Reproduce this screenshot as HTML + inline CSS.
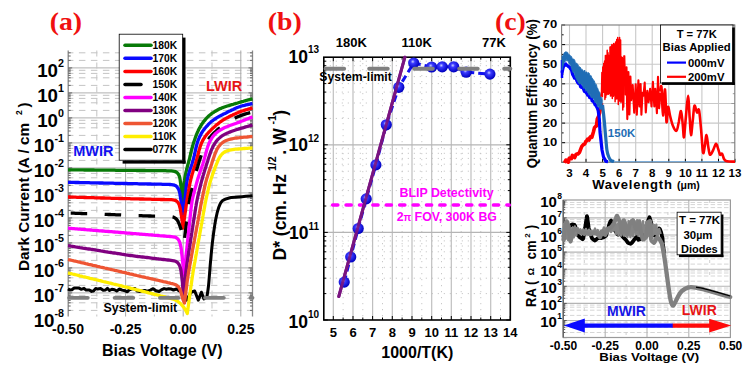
<!DOCTYPE html>
<html><head><meta charset="utf-8"><style>
html,body{margin:0;padding:0;background:#fff;width:750px;height:367px;overflow:hidden}
svg{display:block}
</style></head><body>
<svg width="750" height="367" viewBox="0 0 750 367">
<rect width="750" height="367" fill="#fff"/>
<line x1="68.2" y1="67.9" x2="252.5" y2="67.9" stroke="#b0b0b0" stroke-width="1"/>
<line x1="68.2" y1="92.9" x2="252.5" y2="92.9" stroke="#b0b0b0" stroke-width="1"/>
<line x1="68.2" y1="117.9" x2="252.5" y2="117.9" stroke="#b0b0b0" stroke-width="1"/>
<line x1="68.2" y1="142.9" x2="252.5" y2="142.9" stroke="#b0b0b0" stroke-width="1"/>
<line x1="68.2" y1="167.9" x2="252.5" y2="167.9" stroke="#b0b0b0" stroke-width="1"/>
<line x1="68.2" y1="192.9" x2="252.5" y2="192.9" stroke="#b0b0b0" stroke-width="1"/>
<line x1="68.2" y1="217.9" x2="252.5" y2="217.9" stroke="#b0b0b0" stroke-width="1"/>
<line x1="68.2" y1="242.9" x2="252.5" y2="242.9" stroke="#b0b0b0" stroke-width="1"/>
<line x1="68.2" y1="267.9" x2="252.5" y2="267.9" stroke="#b0b0b0" stroke-width="1"/>
<line x1="68.2" y1="292.9" x2="252.5" y2="292.9" stroke="#b0b0b0" stroke-width="1"/>
<line x1="68.2" y1="60.4" x2="252.5" y2="60.4" stroke="#c4c4c4" stroke-width="1" stroke-dasharray="6.5 5.5" stroke-dashoffset="1.3"/>
<line x1="68.2" y1="52.8" x2="252.5" y2="52.8" stroke="#c4c4c4" stroke-width="1" stroke-dasharray="6.5 5.5" stroke-dashoffset="1.3"/>
<line x1="68.2" y1="85.4" x2="252.5" y2="85.4" stroke="#c4c4c4" stroke-width="1" stroke-dasharray="6.5 5.5" stroke-dashoffset="1.3"/>
<line x1="68.2" y1="77.8" x2="252.5" y2="77.8" stroke="#c4c4c4" stroke-width="1" stroke-dasharray="6.5 5.5" stroke-dashoffset="1.3"/>
<line x1="68.2" y1="73.4" x2="252.5" y2="73.4" stroke="#c4c4c4" stroke-width="1" stroke-dasharray="6.5 5.5" stroke-dashoffset="1.3"/>
<line x1="68.2" y1="70.3" x2="252.5" y2="70.3" stroke="#c4c4c4" stroke-width="1" stroke-dasharray="6.5 5.5" stroke-dashoffset="1.3"/>
<line x1="68.2" y1="110.4" x2="252.5" y2="110.4" stroke="#c4c4c4" stroke-width="1" stroke-dasharray="6.5 5.5" stroke-dashoffset="1.3"/>
<line x1="68.2" y1="102.8" x2="252.5" y2="102.8" stroke="#c4c4c4" stroke-width="1" stroke-dasharray="6.5 5.5" stroke-dashoffset="1.3"/>
<line x1="68.2" y1="98.4" x2="252.5" y2="98.4" stroke="#c4c4c4" stroke-width="1" stroke-dasharray="6.5 5.5" stroke-dashoffset="1.3"/>
<line x1="68.2" y1="95.3" x2="252.5" y2="95.3" stroke="#c4c4c4" stroke-width="1" stroke-dasharray="6.5 5.5" stroke-dashoffset="1.3"/>
<line x1="68.2" y1="135.4" x2="252.5" y2="135.4" stroke="#c4c4c4" stroke-width="1" stroke-dasharray="6.5 5.5" stroke-dashoffset="1.3"/>
<line x1="68.2" y1="127.8" x2="252.5" y2="127.8" stroke="#c4c4c4" stroke-width="1" stroke-dasharray="6.5 5.5" stroke-dashoffset="1.3"/>
<line x1="68.2" y1="123.4" x2="252.5" y2="123.4" stroke="#c4c4c4" stroke-width="1" stroke-dasharray="6.5 5.5" stroke-dashoffset="1.3"/>
<line x1="68.2" y1="120.3" x2="252.5" y2="120.3" stroke="#c4c4c4" stroke-width="1" stroke-dasharray="6.5 5.5" stroke-dashoffset="1.3"/>
<line x1="68.2" y1="160.4" x2="252.5" y2="160.4" stroke="#c4c4c4" stroke-width="1" stroke-dasharray="6.5 5.5" stroke-dashoffset="1.3"/>
<line x1="68.2" y1="152.8" x2="252.5" y2="152.8" stroke="#c4c4c4" stroke-width="1" stroke-dasharray="6.5 5.5" stroke-dashoffset="1.3"/>
<line x1="68.2" y1="148.4" x2="252.5" y2="148.4" stroke="#c4c4c4" stroke-width="1" stroke-dasharray="6.5 5.5" stroke-dashoffset="1.3"/>
<line x1="68.2" y1="145.3" x2="252.5" y2="145.3" stroke="#c4c4c4" stroke-width="1" stroke-dasharray="6.5 5.5" stroke-dashoffset="1.3"/>
<line x1="68.2" y1="185.4" x2="252.5" y2="185.4" stroke="#c4c4c4" stroke-width="1" stroke-dasharray="6.5 5.5" stroke-dashoffset="1.3"/>
<line x1="68.2" y1="177.8" x2="252.5" y2="177.8" stroke="#c4c4c4" stroke-width="1" stroke-dasharray="6.5 5.5" stroke-dashoffset="1.3"/>
<line x1="68.2" y1="173.4" x2="252.5" y2="173.4" stroke="#c4c4c4" stroke-width="1" stroke-dasharray="6.5 5.5" stroke-dashoffset="1.3"/>
<line x1="68.2" y1="170.3" x2="252.5" y2="170.3" stroke="#c4c4c4" stroke-width="1" stroke-dasharray="6.5 5.5" stroke-dashoffset="1.3"/>
<line x1="68.2" y1="210.4" x2="252.5" y2="210.4" stroke="#c4c4c4" stroke-width="1" stroke-dasharray="6.5 5.5" stroke-dashoffset="1.3"/>
<line x1="68.2" y1="202.8" x2="252.5" y2="202.8" stroke="#c4c4c4" stroke-width="1" stroke-dasharray="6.5 5.5" stroke-dashoffset="1.3"/>
<line x1="68.2" y1="198.4" x2="252.5" y2="198.4" stroke="#c4c4c4" stroke-width="1" stroke-dasharray="6.5 5.5" stroke-dashoffset="1.3"/>
<line x1="68.2" y1="195.3" x2="252.5" y2="195.3" stroke="#c4c4c4" stroke-width="1" stroke-dasharray="6.5 5.5" stroke-dashoffset="1.3"/>
<line x1="68.2" y1="235.4" x2="252.5" y2="235.4" stroke="#c4c4c4" stroke-width="1" stroke-dasharray="6.5 5.5" stroke-dashoffset="1.3"/>
<line x1="68.2" y1="227.8" x2="252.5" y2="227.8" stroke="#c4c4c4" stroke-width="1" stroke-dasharray="6.5 5.5" stroke-dashoffset="1.3"/>
<line x1="68.2" y1="223.4" x2="252.5" y2="223.4" stroke="#c4c4c4" stroke-width="1" stroke-dasharray="6.5 5.5" stroke-dashoffset="1.3"/>
<line x1="68.2" y1="220.3" x2="252.5" y2="220.3" stroke="#c4c4c4" stroke-width="1" stroke-dasharray="6.5 5.5" stroke-dashoffset="1.3"/>
<line x1="68.2" y1="260.4" x2="252.5" y2="260.4" stroke="#c4c4c4" stroke-width="1" stroke-dasharray="6.5 5.5" stroke-dashoffset="1.3"/>
<line x1="68.2" y1="252.8" x2="252.5" y2="252.8" stroke="#c4c4c4" stroke-width="1" stroke-dasharray="6.5 5.5" stroke-dashoffset="1.3"/>
<line x1="68.2" y1="248.4" x2="252.5" y2="248.4" stroke="#c4c4c4" stroke-width="1" stroke-dasharray="6.5 5.5" stroke-dashoffset="1.3"/>
<line x1="68.2" y1="245.3" x2="252.5" y2="245.3" stroke="#c4c4c4" stroke-width="1" stroke-dasharray="6.5 5.5" stroke-dashoffset="1.3"/>
<line x1="68.2" y1="285.4" x2="252.5" y2="285.4" stroke="#c4c4c4" stroke-width="1" stroke-dasharray="6.5 5.5" stroke-dashoffset="1.3"/>
<line x1="68.2" y1="277.8" x2="252.5" y2="277.8" stroke="#c4c4c4" stroke-width="1" stroke-dasharray="6.5 5.5" stroke-dashoffset="1.3"/>
<line x1="68.2" y1="273.4" x2="252.5" y2="273.4" stroke="#c4c4c4" stroke-width="1" stroke-dasharray="6.5 5.5" stroke-dashoffset="1.3"/>
<line x1="68.2" y1="270.3" x2="252.5" y2="270.3" stroke="#c4c4c4" stroke-width="1" stroke-dasharray="6.5 5.5" stroke-dashoffset="1.3"/>
<line x1="68.2" y1="310.4" x2="252.5" y2="310.4" stroke="#c4c4c4" stroke-width="1" stroke-dasharray="6.5 5.5" stroke-dashoffset="1.3"/>
<line x1="68.2" y1="302.8" x2="252.5" y2="302.8" stroke="#c4c4c4" stroke-width="1" stroke-dasharray="6.5 5.5" stroke-dashoffset="1.3"/>
<line x1="68.2" y1="298.4" x2="252.5" y2="298.4" stroke="#c4c4c4" stroke-width="1" stroke-dasharray="6.5 5.5" stroke-dashoffset="1.3"/>
<line x1="68.2" y1="295.3" x2="252.5" y2="295.3" stroke="#c4c4c4" stroke-width="1" stroke-dasharray="6.5 5.5" stroke-dashoffset="1.3"/>
<line x1="125.6" y1="50.5" x2="125.6" y2="316.5" stroke="#a8a8a8" stroke-width="1"/>
<line x1="183.2" y1="50.5" x2="183.2" y2="316.5" stroke="#a8a8a8" stroke-width="1"/>
<line x1="240.8" y1="50.5" x2="240.8" y2="316.5" stroke="#a8a8a8" stroke-width="1"/>
<line x1="96.8" y1="50.5" x2="96.8" y2="316.5" stroke="#c4c4c4" stroke-width="1" stroke-dasharray="6 6"/>
<line x1="154.4" y1="50.5" x2="154.4" y2="316.5" stroke="#c4c4c4" stroke-width="1" stroke-dasharray="6 6"/>
<line x1="212" y1="50.5" x2="212" y2="316.5" stroke="#c4c4c4" stroke-width="1" stroke-dasharray="6 6"/>
<line x1="68.2" y1="50.5" x2="68.2" y2="316.5" stroke="#8a8a8a" stroke-width="1.3"/>
<line x1="252.5" y1="50.5" x2="252.5" y2="316.5" stroke="#8a8a8a" stroke-width="1.3"/>
<line x1="68.2" y1="60.4" x2="70.7" y2="60.4" stroke="#666" stroke-width="1"/>
<line x1="252.5" y1="60.4" x2="250" y2="60.4" stroke="#666" stroke-width="1"/>
<line x1="68.2" y1="56" x2="70.7" y2="56" stroke="#666" stroke-width="1"/>
<line x1="252.5" y1="56" x2="250" y2="56" stroke="#666" stroke-width="1"/>
<line x1="68.2" y1="52.8" x2="70.7" y2="52.8" stroke="#666" stroke-width="1"/>
<line x1="252.5" y1="52.8" x2="250" y2="52.8" stroke="#666" stroke-width="1"/>
<line x1="68.2" y1="67.9" x2="72.2" y2="67.9" stroke="#666" stroke-width="1"/>
<line x1="252.5" y1="67.9" x2="248.5" y2="67.9" stroke="#666" stroke-width="1"/>
<line x1="68.2" y1="85.4" x2="70.7" y2="85.4" stroke="#666" stroke-width="1"/>
<line x1="252.5" y1="85.4" x2="250" y2="85.4" stroke="#666" stroke-width="1"/>
<line x1="68.2" y1="81" x2="70.7" y2="81" stroke="#666" stroke-width="1"/>
<line x1="252.5" y1="81" x2="250" y2="81" stroke="#666" stroke-width="1"/>
<line x1="68.2" y1="77.8" x2="70.7" y2="77.8" stroke="#666" stroke-width="1"/>
<line x1="252.5" y1="77.8" x2="250" y2="77.8" stroke="#666" stroke-width="1"/>
<line x1="68.2" y1="75.4" x2="70.7" y2="75.4" stroke="#666" stroke-width="1"/>
<line x1="252.5" y1="75.4" x2="250" y2="75.4" stroke="#666" stroke-width="1"/>
<line x1="68.2" y1="73.4" x2="70.7" y2="73.4" stroke="#666" stroke-width="1"/>
<line x1="252.5" y1="73.4" x2="250" y2="73.4" stroke="#666" stroke-width="1"/>
<line x1="68.2" y1="71.8" x2="70.7" y2="71.8" stroke="#666" stroke-width="1"/>
<line x1="252.5" y1="71.8" x2="250" y2="71.8" stroke="#666" stroke-width="1"/>
<line x1="68.2" y1="70.3" x2="70.7" y2="70.3" stroke="#666" stroke-width="1"/>
<line x1="252.5" y1="70.3" x2="250" y2="70.3" stroke="#666" stroke-width="1"/>
<line x1="68.2" y1="69" x2="70.7" y2="69" stroke="#666" stroke-width="1"/>
<line x1="252.5" y1="69" x2="250" y2="69" stroke="#666" stroke-width="1"/>
<line x1="68.2" y1="92.9" x2="72.2" y2="92.9" stroke="#666" stroke-width="1"/>
<line x1="252.5" y1="92.9" x2="248.5" y2="92.9" stroke="#666" stroke-width="1"/>
<line x1="68.2" y1="110.4" x2="70.7" y2="110.4" stroke="#666" stroke-width="1"/>
<line x1="252.5" y1="110.4" x2="250" y2="110.4" stroke="#666" stroke-width="1"/>
<line x1="68.2" y1="106" x2="70.7" y2="106" stroke="#666" stroke-width="1"/>
<line x1="252.5" y1="106" x2="250" y2="106" stroke="#666" stroke-width="1"/>
<line x1="68.2" y1="102.8" x2="70.7" y2="102.8" stroke="#666" stroke-width="1"/>
<line x1="252.5" y1="102.8" x2="250" y2="102.8" stroke="#666" stroke-width="1"/>
<line x1="68.2" y1="100.4" x2="70.7" y2="100.4" stroke="#666" stroke-width="1"/>
<line x1="252.5" y1="100.4" x2="250" y2="100.4" stroke="#666" stroke-width="1"/>
<line x1="68.2" y1="98.4" x2="70.7" y2="98.4" stroke="#666" stroke-width="1"/>
<line x1="252.5" y1="98.4" x2="250" y2="98.4" stroke="#666" stroke-width="1"/>
<line x1="68.2" y1="96.8" x2="70.7" y2="96.8" stroke="#666" stroke-width="1"/>
<line x1="252.5" y1="96.8" x2="250" y2="96.8" stroke="#666" stroke-width="1"/>
<line x1="68.2" y1="95.3" x2="70.7" y2="95.3" stroke="#666" stroke-width="1"/>
<line x1="252.5" y1="95.3" x2="250" y2="95.3" stroke="#666" stroke-width="1"/>
<line x1="68.2" y1="94" x2="70.7" y2="94" stroke="#666" stroke-width="1"/>
<line x1="252.5" y1="94" x2="250" y2="94" stroke="#666" stroke-width="1"/>
<line x1="68.2" y1="117.9" x2="72.2" y2="117.9" stroke="#666" stroke-width="1"/>
<line x1="252.5" y1="117.9" x2="248.5" y2="117.9" stroke="#666" stroke-width="1"/>
<line x1="68.2" y1="135.4" x2="70.7" y2="135.4" stroke="#666" stroke-width="1"/>
<line x1="252.5" y1="135.4" x2="250" y2="135.4" stroke="#666" stroke-width="1"/>
<line x1="68.2" y1="131" x2="70.7" y2="131" stroke="#666" stroke-width="1"/>
<line x1="252.5" y1="131" x2="250" y2="131" stroke="#666" stroke-width="1"/>
<line x1="68.2" y1="127.8" x2="70.7" y2="127.8" stroke="#666" stroke-width="1"/>
<line x1="252.5" y1="127.8" x2="250" y2="127.8" stroke="#666" stroke-width="1"/>
<line x1="68.2" y1="125.4" x2="70.7" y2="125.4" stroke="#666" stroke-width="1"/>
<line x1="252.5" y1="125.4" x2="250" y2="125.4" stroke="#666" stroke-width="1"/>
<line x1="68.2" y1="123.4" x2="70.7" y2="123.4" stroke="#666" stroke-width="1"/>
<line x1="252.5" y1="123.4" x2="250" y2="123.4" stroke="#666" stroke-width="1"/>
<line x1="68.2" y1="121.8" x2="70.7" y2="121.8" stroke="#666" stroke-width="1"/>
<line x1="252.5" y1="121.8" x2="250" y2="121.8" stroke="#666" stroke-width="1"/>
<line x1="68.2" y1="120.3" x2="70.7" y2="120.3" stroke="#666" stroke-width="1"/>
<line x1="252.5" y1="120.3" x2="250" y2="120.3" stroke="#666" stroke-width="1"/>
<line x1="68.2" y1="119" x2="70.7" y2="119" stroke="#666" stroke-width="1"/>
<line x1="252.5" y1="119" x2="250" y2="119" stroke="#666" stroke-width="1"/>
<line x1="68.2" y1="142.9" x2="72.2" y2="142.9" stroke="#666" stroke-width="1"/>
<line x1="252.5" y1="142.9" x2="248.5" y2="142.9" stroke="#666" stroke-width="1"/>
<line x1="68.2" y1="160.4" x2="70.7" y2="160.4" stroke="#666" stroke-width="1"/>
<line x1="252.5" y1="160.4" x2="250" y2="160.4" stroke="#666" stroke-width="1"/>
<line x1="68.2" y1="156" x2="70.7" y2="156" stroke="#666" stroke-width="1"/>
<line x1="252.5" y1="156" x2="250" y2="156" stroke="#666" stroke-width="1"/>
<line x1="68.2" y1="152.8" x2="70.7" y2="152.8" stroke="#666" stroke-width="1"/>
<line x1="252.5" y1="152.8" x2="250" y2="152.8" stroke="#666" stroke-width="1"/>
<line x1="68.2" y1="150.4" x2="70.7" y2="150.4" stroke="#666" stroke-width="1"/>
<line x1="252.5" y1="150.4" x2="250" y2="150.4" stroke="#666" stroke-width="1"/>
<line x1="68.2" y1="148.4" x2="70.7" y2="148.4" stroke="#666" stroke-width="1"/>
<line x1="252.5" y1="148.4" x2="250" y2="148.4" stroke="#666" stroke-width="1"/>
<line x1="68.2" y1="146.8" x2="70.7" y2="146.8" stroke="#666" stroke-width="1"/>
<line x1="252.5" y1="146.8" x2="250" y2="146.8" stroke="#666" stroke-width="1"/>
<line x1="68.2" y1="145.3" x2="70.7" y2="145.3" stroke="#666" stroke-width="1"/>
<line x1="252.5" y1="145.3" x2="250" y2="145.3" stroke="#666" stroke-width="1"/>
<line x1="68.2" y1="144" x2="70.7" y2="144" stroke="#666" stroke-width="1"/>
<line x1="252.5" y1="144" x2="250" y2="144" stroke="#666" stroke-width="1"/>
<line x1="68.2" y1="167.9" x2="72.2" y2="167.9" stroke="#666" stroke-width="1"/>
<line x1="252.5" y1="167.9" x2="248.5" y2="167.9" stroke="#666" stroke-width="1"/>
<line x1="68.2" y1="185.4" x2="70.7" y2="185.4" stroke="#666" stroke-width="1"/>
<line x1="252.5" y1="185.4" x2="250" y2="185.4" stroke="#666" stroke-width="1"/>
<line x1="68.2" y1="181" x2="70.7" y2="181" stroke="#666" stroke-width="1"/>
<line x1="252.5" y1="181" x2="250" y2="181" stroke="#666" stroke-width="1"/>
<line x1="68.2" y1="177.8" x2="70.7" y2="177.8" stroke="#666" stroke-width="1"/>
<line x1="252.5" y1="177.8" x2="250" y2="177.8" stroke="#666" stroke-width="1"/>
<line x1="68.2" y1="175.4" x2="70.7" y2="175.4" stroke="#666" stroke-width="1"/>
<line x1="252.5" y1="175.4" x2="250" y2="175.4" stroke="#666" stroke-width="1"/>
<line x1="68.2" y1="173.4" x2="70.7" y2="173.4" stroke="#666" stroke-width="1"/>
<line x1="252.5" y1="173.4" x2="250" y2="173.4" stroke="#666" stroke-width="1"/>
<line x1="68.2" y1="171.8" x2="70.7" y2="171.8" stroke="#666" stroke-width="1"/>
<line x1="252.5" y1="171.8" x2="250" y2="171.8" stroke="#666" stroke-width="1"/>
<line x1="68.2" y1="170.3" x2="70.7" y2="170.3" stroke="#666" stroke-width="1"/>
<line x1="252.5" y1="170.3" x2="250" y2="170.3" stroke="#666" stroke-width="1"/>
<line x1="68.2" y1="169" x2="70.7" y2="169" stroke="#666" stroke-width="1"/>
<line x1="252.5" y1="169" x2="250" y2="169" stroke="#666" stroke-width="1"/>
<line x1="68.2" y1="192.9" x2="72.2" y2="192.9" stroke="#666" stroke-width="1"/>
<line x1="252.5" y1="192.9" x2="248.5" y2="192.9" stroke="#666" stroke-width="1"/>
<line x1="68.2" y1="210.4" x2="70.7" y2="210.4" stroke="#666" stroke-width="1"/>
<line x1="252.5" y1="210.4" x2="250" y2="210.4" stroke="#666" stroke-width="1"/>
<line x1="68.2" y1="206" x2="70.7" y2="206" stroke="#666" stroke-width="1"/>
<line x1="252.5" y1="206" x2="250" y2="206" stroke="#666" stroke-width="1"/>
<line x1="68.2" y1="202.8" x2="70.7" y2="202.8" stroke="#666" stroke-width="1"/>
<line x1="252.5" y1="202.8" x2="250" y2="202.8" stroke="#666" stroke-width="1"/>
<line x1="68.2" y1="200.4" x2="70.7" y2="200.4" stroke="#666" stroke-width="1"/>
<line x1="252.5" y1="200.4" x2="250" y2="200.4" stroke="#666" stroke-width="1"/>
<line x1="68.2" y1="198.4" x2="70.7" y2="198.4" stroke="#666" stroke-width="1"/>
<line x1="252.5" y1="198.4" x2="250" y2="198.4" stroke="#666" stroke-width="1"/>
<line x1="68.2" y1="196.8" x2="70.7" y2="196.8" stroke="#666" stroke-width="1"/>
<line x1="252.5" y1="196.8" x2="250" y2="196.8" stroke="#666" stroke-width="1"/>
<line x1="68.2" y1="195.3" x2="70.7" y2="195.3" stroke="#666" stroke-width="1"/>
<line x1="252.5" y1="195.3" x2="250" y2="195.3" stroke="#666" stroke-width="1"/>
<line x1="68.2" y1="194" x2="70.7" y2="194" stroke="#666" stroke-width="1"/>
<line x1="252.5" y1="194" x2="250" y2="194" stroke="#666" stroke-width="1"/>
<line x1="68.2" y1="217.9" x2="72.2" y2="217.9" stroke="#666" stroke-width="1"/>
<line x1="252.5" y1="217.9" x2="248.5" y2="217.9" stroke="#666" stroke-width="1"/>
<line x1="68.2" y1="235.4" x2="70.7" y2="235.4" stroke="#666" stroke-width="1"/>
<line x1="252.5" y1="235.4" x2="250" y2="235.4" stroke="#666" stroke-width="1"/>
<line x1="68.2" y1="231" x2="70.7" y2="231" stroke="#666" stroke-width="1"/>
<line x1="252.5" y1="231" x2="250" y2="231" stroke="#666" stroke-width="1"/>
<line x1="68.2" y1="227.8" x2="70.7" y2="227.8" stroke="#666" stroke-width="1"/>
<line x1="252.5" y1="227.8" x2="250" y2="227.8" stroke="#666" stroke-width="1"/>
<line x1="68.2" y1="225.4" x2="70.7" y2="225.4" stroke="#666" stroke-width="1"/>
<line x1="252.5" y1="225.4" x2="250" y2="225.4" stroke="#666" stroke-width="1"/>
<line x1="68.2" y1="223.4" x2="70.7" y2="223.4" stroke="#666" stroke-width="1"/>
<line x1="252.5" y1="223.4" x2="250" y2="223.4" stroke="#666" stroke-width="1"/>
<line x1="68.2" y1="221.8" x2="70.7" y2="221.8" stroke="#666" stroke-width="1"/>
<line x1="252.5" y1="221.8" x2="250" y2="221.8" stroke="#666" stroke-width="1"/>
<line x1="68.2" y1="220.3" x2="70.7" y2="220.3" stroke="#666" stroke-width="1"/>
<line x1="252.5" y1="220.3" x2="250" y2="220.3" stroke="#666" stroke-width="1"/>
<line x1="68.2" y1="219" x2="70.7" y2="219" stroke="#666" stroke-width="1"/>
<line x1="252.5" y1="219" x2="250" y2="219" stroke="#666" stroke-width="1"/>
<line x1="68.2" y1="242.9" x2="72.2" y2="242.9" stroke="#666" stroke-width="1"/>
<line x1="252.5" y1="242.9" x2="248.5" y2="242.9" stroke="#666" stroke-width="1"/>
<line x1="68.2" y1="260.4" x2="70.7" y2="260.4" stroke="#666" stroke-width="1"/>
<line x1="252.5" y1="260.4" x2="250" y2="260.4" stroke="#666" stroke-width="1"/>
<line x1="68.2" y1="256" x2="70.7" y2="256" stroke="#666" stroke-width="1"/>
<line x1="252.5" y1="256" x2="250" y2="256" stroke="#666" stroke-width="1"/>
<line x1="68.2" y1="252.8" x2="70.7" y2="252.8" stroke="#666" stroke-width="1"/>
<line x1="252.5" y1="252.8" x2="250" y2="252.8" stroke="#666" stroke-width="1"/>
<line x1="68.2" y1="250.4" x2="70.7" y2="250.4" stroke="#666" stroke-width="1"/>
<line x1="252.5" y1="250.4" x2="250" y2="250.4" stroke="#666" stroke-width="1"/>
<line x1="68.2" y1="248.4" x2="70.7" y2="248.4" stroke="#666" stroke-width="1"/>
<line x1="252.5" y1="248.4" x2="250" y2="248.4" stroke="#666" stroke-width="1"/>
<line x1="68.2" y1="246.8" x2="70.7" y2="246.8" stroke="#666" stroke-width="1"/>
<line x1="252.5" y1="246.8" x2="250" y2="246.8" stroke="#666" stroke-width="1"/>
<line x1="68.2" y1="245.3" x2="70.7" y2="245.3" stroke="#666" stroke-width="1"/>
<line x1="252.5" y1="245.3" x2="250" y2="245.3" stroke="#666" stroke-width="1"/>
<line x1="68.2" y1="244" x2="70.7" y2="244" stroke="#666" stroke-width="1"/>
<line x1="252.5" y1="244" x2="250" y2="244" stroke="#666" stroke-width="1"/>
<line x1="68.2" y1="267.9" x2="72.2" y2="267.9" stroke="#666" stroke-width="1"/>
<line x1="252.5" y1="267.9" x2="248.5" y2="267.9" stroke="#666" stroke-width="1"/>
<line x1="68.2" y1="285.4" x2="70.7" y2="285.4" stroke="#666" stroke-width="1"/>
<line x1="252.5" y1="285.4" x2="250" y2="285.4" stroke="#666" stroke-width="1"/>
<line x1="68.2" y1="281" x2="70.7" y2="281" stroke="#666" stroke-width="1"/>
<line x1="252.5" y1="281" x2="250" y2="281" stroke="#666" stroke-width="1"/>
<line x1="68.2" y1="277.8" x2="70.7" y2="277.8" stroke="#666" stroke-width="1"/>
<line x1="252.5" y1="277.8" x2="250" y2="277.8" stroke="#666" stroke-width="1"/>
<line x1="68.2" y1="275.4" x2="70.7" y2="275.4" stroke="#666" stroke-width="1"/>
<line x1="252.5" y1="275.4" x2="250" y2="275.4" stroke="#666" stroke-width="1"/>
<line x1="68.2" y1="273.4" x2="70.7" y2="273.4" stroke="#666" stroke-width="1"/>
<line x1="252.5" y1="273.4" x2="250" y2="273.4" stroke="#666" stroke-width="1"/>
<line x1="68.2" y1="271.8" x2="70.7" y2="271.8" stroke="#666" stroke-width="1"/>
<line x1="252.5" y1="271.8" x2="250" y2="271.8" stroke="#666" stroke-width="1"/>
<line x1="68.2" y1="270.3" x2="70.7" y2="270.3" stroke="#666" stroke-width="1"/>
<line x1="252.5" y1="270.3" x2="250" y2="270.3" stroke="#666" stroke-width="1"/>
<line x1="68.2" y1="269" x2="70.7" y2="269" stroke="#666" stroke-width="1"/>
<line x1="252.5" y1="269" x2="250" y2="269" stroke="#666" stroke-width="1"/>
<line x1="68.2" y1="292.9" x2="72.2" y2="292.9" stroke="#666" stroke-width="1"/>
<line x1="252.5" y1="292.9" x2="248.5" y2="292.9" stroke="#666" stroke-width="1"/>
<line x1="68.2" y1="310.4" x2="70.7" y2="310.4" stroke="#666" stroke-width="1"/>
<line x1="252.5" y1="310.4" x2="250" y2="310.4" stroke="#666" stroke-width="1"/>
<line x1="68.2" y1="306" x2="70.7" y2="306" stroke="#666" stroke-width="1"/>
<line x1="252.5" y1="306" x2="250" y2="306" stroke="#666" stroke-width="1"/>
<line x1="68.2" y1="302.8" x2="70.7" y2="302.8" stroke="#666" stroke-width="1"/>
<line x1="252.5" y1="302.8" x2="250" y2="302.8" stroke="#666" stroke-width="1"/>
<line x1="68.2" y1="300.4" x2="70.7" y2="300.4" stroke="#666" stroke-width="1"/>
<line x1="252.5" y1="300.4" x2="250" y2="300.4" stroke="#666" stroke-width="1"/>
<line x1="68.2" y1="298.4" x2="70.7" y2="298.4" stroke="#666" stroke-width="1"/>
<line x1="252.5" y1="298.4" x2="250" y2="298.4" stroke="#666" stroke-width="1"/>
<line x1="68.2" y1="296.8" x2="70.7" y2="296.8" stroke="#666" stroke-width="1"/>
<line x1="252.5" y1="296.8" x2="250" y2="296.8" stroke="#666" stroke-width="1"/>
<line x1="68.2" y1="295.3" x2="70.7" y2="295.3" stroke="#666" stroke-width="1"/>
<line x1="252.5" y1="295.3" x2="250" y2="295.3" stroke="#666" stroke-width="1"/>
<line x1="68.2" y1="294" x2="70.7" y2="294" stroke="#666" stroke-width="1"/>
<line x1="252.5" y1="294" x2="250" y2="294" stroke="#666" stroke-width="1"/>
<path d="M68 288.9 L70 290.1 L71.9 289.7 L74.2 288 L76.7 287.9 L79.1 288.1 L81.1 289.3 L84 288.3 L86.1 290.1 L89.3 290 L91.6 291.4 L93.5 291 L95.7 288.5 L97.7 289.1 L100.6 288.6 L103.2 290.3 L105.5 290 L107.4 288.3 L109.5 290.5 L111.9 289.2 L114.5 289.7 L116.7 291 L119.5 289 L122.1 290.1 L125.2 290.8 L127.4 291.8 L129.3 289.8 L132.2 288.8 L134.7 288.4 L137.4 291.1 L140 291.5 L142.2 290.9 L144.9 290.5 L147.3 291.4 L150.4 290.1 L153.2 288.7 L156 290.8 L159.1 291.5 L161.3 289.9 L164.1 288.6 L166.5 289.2 L168.5 288.8 L171.4 289.1 L173.5 290 L176.5 289 L179 290.7 L180 290.5 L183.6 295.2 L186.7 300.1 L191 292.2 L194.7 291 L198.3 300.1 L201.4 292.2 L203.9 298.9 L206.9 297C207.2 295 208 290.8 208.6 285C209.2 279.2 209.8 269.5 210.5 262C211.2 254.5 211.8 247.1 212.7 240C213.6 232.9 214.7 224.9 215.7 219.5C216.7 214.1 217.6 210.6 218.7 207.5C219.8 204.4 220.6 202.3 222.5 200.7C224.4 199.1 226.8 198.4 230 197.7C233.2 197 238.2 197 242 196.7C245.8 196.4 250.8 196 252.5 195.8" fill="none" stroke="#000" stroke-width="3" stroke-linejoin="round"/>
<path d="M68 169.8 L69.5 169.8 L71 169.8 L72.5 169.8 L74 169.9 L75.5 169.9 L77 169.9 L78.5 169.9 L80 169.9 L81.5 169.9 L83 169.9 L84.5 170 L86 170 L87.5 170 L89 170 L90.5 170 L92 170 L93.5 170 L95 170.1 L96.5 170.1 L98 170.1 L99.5 170.1 L101 170.1 L102.5 170.1 L104 170.1 L105.5 170.2 L107 170.2 L108.5 170.2 L110 170.2 L111.5 170.2 L113 170.2 L114.5 170.2 L116 170.3 L117.5 170.3 L119 170.3 L120.5 170.3 L122 170.3 L123.5 170.3 L125 170.3 L126.5 170.4 L128 170.4 L129.5 170.4 L131 170.4 L132.5 170.4 L134 170.4 L135.5 170.4 L137 170.5 L138.5 170.5 L140 170.5 L141.5 170.5 L143 170.5 L144.5 170.5 L146 170.6 L147.5 170.6 L149 170.6 L150.5 170.6 L152 170.6 L153.5 170.6 L155 170.6 L156.5 170.7 L158 170.7 L159.5 170.7 L161 170.7 L162.5 170.7 L164 170.7 L165.5 170.7 L167 170.8 L168.5 170.8 L170 170.8 L171.5 170.9 L173 171.1 L174.5 171.4 L175.9 171.9 L177.1 172.7 L178.1 173.8 L178.9 175.1 L179.5 176.5 L179.8 178 L180.1 179.5 L180.3 181 L180.5 182.5 L180.7 184 L180.9 185.5 L181.1 187 L181.2 188.5 L181.4 190 L181.5 191.5 L181.6 193 L181.8 194.5 L181.9 196 L182 197.5 L182.1 199 L182.3 200.5 L182.4 202 L182.5 203 L182.6 201.5 L182.7 200 L182.8 198.5 L182.9 197 L183 195.5 L183.1 194 L183.2 192.5 L183.3 191 L183.4 189.5 L183.5 188 L183.7 186.5 L183.9 185 L184 183.5 L184.2 182 L184.5 180.5 L184.7 179 L184.9 177.5 L185.2 176 L185.5 174.6 L185.8 173.1 L186.1 171.6 L186.5 170.2 L186.9 168.7 L187.2 167.2 L187.6 165.8 L188 164.3 L188.4 162.9 L188.8 161.4 L189.2 159.9 L189.6 158.5 L189.9 157 L190.3 155.5 L190.6 154 L191 152.5 L191.3 151 L191.7 149.5 L192.1 148 L192.5 146.5 L192.9 145.1 L193.3 143.6 L193.8 142.1 L194.3 140.7 L194.8 139.3 L195.3 137.8 L195.8 136.4 L196.3 135 L196.9 133.6 L197.5 132.2 L198.1 130.9 L198.7 129.5 L199.4 128.2 L200.2 126.9 L200.9 125.6 L201.8 124.3 L202.6 123 L203.5 121.8 L204.5 120.6 L205.5 119.4 L206.5 118.2 L207.6 117.1 L208.7 116 L209.9 115 L211.1 114.1 L212.3 113.1 L213.6 112.3 L214.8 111.5 L216.2 110.7 L217.5 110 L218.8 109.3 L220.2 108.6 L221.6 108.1 L223 107.5 L224.4 107 L225.9 106.5 L227.3 106 L228.8 105.6 L230.2 105.1 L231.7 104.7 L233.2 104.3 L234.6 103.8 L236.1 103.4 L237.6 103 L239.1 102.5 L240.5 102.1 L242 101.7 L243.5 101.3 L245 100.8 L246.5 100.4 L248 100 L249.5 99.6 L251 99.2 L252.5 98.8 L252.5 98.8" fill="none" stroke="#087a08" stroke-width="3.3" stroke-linejoin="round" stroke-linecap="butt"/>
<path d="M68 182.3 L69.5 182.3 L71 182.4 L72.5 182.4 L74 182.4 L75.5 182.5 L77 182.5 L78.5 182.5 L80 182.6 L81.5 182.6 L83 182.6 L84.5 182.6 L86 182.7 L87.5 182.7 L89 182.7 L90.5 182.8 L92 182.8 L93.5 182.8 L95 182.9 L96.5 182.9 L98 182.9 L99.5 183 L101 183 L102.5 183 L104 183.1 L105.5 183.1 L107 183.1 L108.5 183.1 L110 183.2 L111.5 183.2 L113 183.2 L114.5 183.3 L116 183.3 L117.5 183.3 L119 183.4 L120.5 183.4 L122 183.4 L123.5 183.5 L125 183.5 L126.5 183.5 L128 183.6 L129.5 183.6 L131 183.6 L132.5 183.6 L134 183.7 L135.5 183.7 L137 183.7 L138.5 183.8 L140 183.8 L141.5 183.8 L143 183.9 L144.5 183.9 L146 183.9 L147.5 184 L149 184 L150.5 184 L152 184.1 L153.5 184.1 L155 184.1 L156.5 184.2 L158 184.2 L159.5 184.2 L161 184.2 L162.5 184.3 L164 184.3 L165.5 184.3 L167 184.4 L168.5 184.4 L170 184.5 L171.5 184.6 L173 184.8 L174.5 185.2 L175.8 185.8 L176.9 186.7 L177.8 187.9 L178.5 189.2 L179.1 190.6 L179.5 192 L179.9 193.5 L180.1 195 L180.3 196.5 L180.6 198 L180.8 199.5 L181 201 L181.2 202.5 L181.4 204 L181.5 205.5 L181.7 207 L181.9 208.5 L182 210 L182.2 211.5 L182.3 213 L182.5 214.5 L182.6 216 L182.8 217.5 L182.8 218 L183 216.5 L183.2 215 L183.4 213.5 L183.5 212 L183.7 210.5 L183.9 209 L184.1 207.5 L184.3 206 L184.4 204.5 L184.6 203 L184.8 201.5 L184.9 200 L185.1 198.5 L185.2 197 L185.4 195.5 L185.5 194 L185.7 192.5 L185.8 191 L186 189.5 L186.1 188 L186.3 186.5 L186.4 185 L186.6 183.5 L186.9 182 L187.1 180.5 L187.4 179 L187.8 177.5 L188.1 176 L188.5 174.5 L189 173 L189.4 171.6 L189.9 170.1 L190.4 168.6 L190.9 167.2 L191.4 165.7 L191.9 164.3 L192.3 162.8 L192.8 161.4 L193.2 159.9 L193.6 158.4 L194 157 L194.3 155.5 L194.7 154 L195 152.5 L195.3 151 L195.6 149.5 L196 148 L196.3 146.5 L196.7 145 L197.1 143.6 L197.5 142.1 L198 140.7 L198.6 139.2 L199.2 137.8 L199.8 136.4 L200.5 135.1 L201.2 133.7 L202 132.4 L202.8 131.2 L203.7 129.9 L204.6 128.7 L205.6 127.5 L206.6 126.4 L207.6 125.3 L208.6 124.2 L209.7 123.1 L210.8 122.1 L212 121.1 L213.2 120.2 L214.4 119.3 L215.7 118.5 L217 117.7 L218.3 116.9 L219.6 116.1 L220.9 115.4 L222.3 114.7 L223.6 114 L225 113.4 L226.4 112.7 L227.7 112 L229.1 111.3 L230.5 110.7 L231.8 110 L233.2 109.4 L234.6 108.7 L236 108.1 L237.3 107.5 L238.8 107 L240.2 106.5 L241.6 106 L243.1 105.6 L244.5 105.3 L246 104.9 L247.5 104.6 L249 104.3 L250.5 104 L252 103.7 L252.5 103.6" fill="none" stroke="#0a0aff" stroke-width="3.3" stroke-linejoin="round" stroke-linecap="butt"/>
<path d="M68 197 L69.5 197 L71 197.1 L72.5 197.1 L74 197.2 L75.5 197.2 L77 197.3 L78.5 197.3 L80 197.3 L81.5 197.4 L83 197.4 L84.5 197.5 L86 197.5 L87.5 197.6 L89 197.6 L90.5 197.6 L92 197.7 L93.5 197.7 L95 197.8 L96.5 197.8 L98 197.9 L99.5 197.9 L101 198 L102.5 198 L104 198 L105.5 198.1 L107 198.1 L108.5 198.2 L110 198.2 L111.5 198.3 L113 198.3 L114.5 198.3 L116 198.4 L117.5 198.4 L119 198.5 L120.5 198.5 L122 198.5 L123.5 198.6 L125 198.6 L126.5 198.7 L128 198.7 L129.5 198.7 L131 198.8 L132.5 198.8 L134 198.8 L135.5 198.9 L137 198.9 L138.5 198.9 L140 199 L141.5 199 L143 199 L144.5 199.1 L146 199.1 L147.5 199.2 L149 199.2 L150.5 199.2 L152 199.3 L153.5 199.3 L155 199.3 L156.5 199.4 L158 199.4 L159.5 199.4 L161 199.5 L162.5 199.5 L164 199.5 L165.5 199.6 L167 199.6 L168.5 199.6 L170 199.7 L171.5 199.7 L173 199.8 L174.5 200.1 L175.9 200.6 L177.1 201.5 L178.1 202.7 L178.8 204 L179.4 205.5 L179.8 207 L180.2 208.5 L180.5 210 L180.7 211.5 L181 213 L181.2 214.5 L181.5 216 L181.7 217.5 L181.9 219 L182.1 220.5 L182.3 222 L182.4 223.5 L182.6 225 L182.8 226.5 L183 228 L183 228 L183.2 226.5 L183.4 225 L183.6 223.5 L183.9 222 L184.1 220.5 L184.3 219 L184.5 217.5 L184.7 216 L184.9 214.5 L185.1 213 L185.4 211.5 L185.6 210 L185.8 208.5 L186 207 L186.2 205.5 L186.4 204 L186.7 202.5 L186.9 201 L187.1 199.5 L187.4 198 L187.6 196.5 L187.9 195 L188.1 193.5 L188.4 192 L188.6 190.5 L188.9 189 L189.1 187.5 L189.4 186 L189.7 184.5 L190 183 L190.3 181.5 L190.7 180 L191 178.5 L191.4 177 L191.8 175.5 L192.2 174 L192.7 172.5 L193.1 171.1 L193.6 169.6 L194.1 168.1 L194.5 166.7 L195 165.2 L195.5 163.8 L195.9 162.3 L196.3 160.9 L196.7 159.4 L197.1 157.9 L197.5 156.5 L197.9 155 L198.3 153.5 L198.7 152 L199 150.5 L199.5 149 L199.9 147.5 L200.4 146 L200.9 144.6 L201.5 143.2 L202.1 141.8 L202.8 140.4 L203.5 139.1 L204.4 137.8 L205.2 136.5 L206.2 135.3 L207.1 134.1 L208.1 133 L209.1 131.9 L210.2 130.8 L211.3 129.7 L212.4 128.6 L213.5 127.6 L214.6 126.6 L215.7 125.6 L216.9 124.6 L218.1 123.7 L219.2 122.7 L220.4 121.8 L221.7 121 L222.9 120.2 L224.2 119.4 L225.5 118.6 L226.8 117.9 L228.2 117.2 L229.5 116.5 L230.9 115.8 L232.3 115.2 L233.6 114.5 L235 113.9 L236.4 113.3 L237.8 112.7 L239.2 112.1 L240.7 111.6 L242.1 111 L243.6 110.6 L245 110.1 L246.5 109.7 L248 109.2 L249.5 108.8 L251 108.4 L252.5 108 L252.5 108" fill="none" stroke="#ff0000" stroke-width="3.3" stroke-linejoin="round" stroke-linecap="butt"/>
<path d="M68 213 L69.5 213.1 L71 213.1 L72.5 213.2 L74 213.2 L75.5 213.3 L77 213.3 L78.5 213.4 L80 213.4 L81.5 213.5 L83 213.6 L84.5 213.6 L86 213.7 L87.5 213.7 L89 213.8 L90.5 213.8 L92 213.9 L93.5 213.9 L95 214 L96.5 214 L98 214.1 L99.5 214.2 L101 214.2 L102.5 214.3 L104 214.3 L105.5 214.4 L107 214.4 L108.5 214.5 L110 214.5 L111.5 214.6 L113 214.7 L114.5 214.7 L116 214.8 L117.5 214.8 L119 214.9 L120.5 214.9 L122 215 L123.5 215 L125 215.1 L126.5 215.2 L128 215.2 L129.5 215.3 L131 215.3 L132.5 215.4 L134 215.4 L135.5 215.5 L137 215.5 L138.5 215.6 L140 215.6 L141.5 215.7 L143 215.8 L144.5 215.8 L146 215.9 L147.5 215.9 L149 216 L150.5 216 L152 216.1 L153.5 216.1 L155 216.2 L156.5 216.2 L158 216.2 L159.5 216.3 L161 216.3 L162.5 216.3 L164 216.3 L165.5 216.4 L167 216.4 L168.5 216.4 L170 216.5 L171.5 216.6 L172.9 216.9 L174.3 217.5 L175.5 218.3 L176.6 219.3 L177.5 220.5 L178.2 221.8 L178.8 223.2 L179.4 224.6 L179.9 226.1 L180.4 227.5 L180.9 229 L181.4 230.5 L181.9 232 L182.3 233.5 L182.6 235 L182.9 236.5 L183.2 238 L183.5 239.5 L183.7 241 L184 242.5 L184 242.5 L184.2 241 L184.4 239.5 L184.6 238 L184.8 236.5 L185 235 L185.2 233.5 L185.4 232 L185.6 230.5 L185.7 229 L185.9 227.5 L186.1 226 L186.3 224.5 L186.5 223 L186.7 221.5 L186.9 220 L187.1 218.5 L187.3 217 L187.5 215.5 L187.7 214 L187.9 212.5 L188.1 211 L188.3 209.5 L188.5 208 L188.7 206.5 L188.9 205 L189.1 203.5 L189.3 202 L189.6 200.5 L189.9 199.1 L190.1 197.6 L190.4 196.1 L190.7 194.6 L191 193.2 L191.4 191.7 L191.7 190.2 L192 188.8 L192.4 187.3 L192.7 185.8 L193 184.4 L193.4 182.9 L193.7 181.4 L194.1 180 L194.4 178.5 L194.8 177 L195.2 175.5 L195.6 174 L196 172.5 L196.4 171 L196.8 169.5 L197.2 168 L197.7 166.5 L198.1 165 L198.6 163.5 L199 162.1 L199.5 160.6 L200 159.1 L200.4 157.7 L200.9 156.2 L201.4 154.8 L201.9 153.3 L202.4 151.9 L203 150.5 L203.5 149.1 L204.1 147.6 L204.7 146.2 L205.3 144.8 L206 143.5 L206.7 142.1 L207.5 140.8 L208.3 139.6 L209.2 138.3 L210.1 137.1 L211.1 136 L212.1 134.8 L213.2 133.7 L214.2 132.7 L215.4 131.6 L216.5 130.6 L217.7 129.6 L218.9 128.6 L220.1 127.7 L221.4 126.7 L222.6 125.8 L223.9 124.9 L225.2 124.1 L226.5 123.2 L227.8 122.4 L229.1 121.6 L230.4 120.8 L231.7 120 L233.1 119.2 L234.4 118.5 L235.7 117.8 L237.1 117.1 L238.5 116.5 L239.9 115.9 L241.3 115.4 L242.7 114.9 L244.2 114.4 L245.6 113.9 L247.1 113.5 L248.6 113.1 L250 112.7 L251.5 112.3 L252.5 112" fill="none" stroke="#000000" stroke-width="3.3" stroke-linejoin="round" stroke-linecap="butt" stroke-dasharray="16.5 17.5" stroke-dashoffset="-2.7"/>
<path d="M68 228.2 L69.5 228.3 L71 228.4 L72.5 228.6 L74 228.7 L75.5 228.8 L77 228.9 L78.5 229.1 L80 229.2 L81.5 229.3 L83 229.4 L84.5 229.5 L86 229.7 L87.5 229.8 L89 229.9 L90.5 230 L92 230.2 L93.5 230.3 L95 230.4 L96.5 230.5 L98 230.6 L99.5 230.8 L101 230.9 L102.5 231 L104 231.1 L105.5 231.3 L107 231.4 L108.5 231.5 L110 231.6 L111.5 231.7 L113 231.9 L114.5 232 L116 232.1 L117.5 232.2 L119 232.4 L120.5 232.5 L122 232.6 L123.5 232.7 L125 232.8 L126.5 233 L128 233.1 L129.5 233.2 L131 233.3 L132.5 233.5 L134 233.6 L135.5 233.7 L137 233.8 L138.5 233.9 L140 234.1 L141.5 234.2 L143 234.3 L144.5 234.4 L146 234.6 L147.5 234.7 L149 234.8 L150.5 234.9 L152 235 L153.5 235.2 L155 235.3 L156.5 235.4 L158 235.5 L159.5 235.7 L161 235.8 L162.5 235.9 L164 236 L165.5 236.1 L167 236.3 L168.5 236.4 L170 236.5 L171.5 236.6 L173 236.8 L174.5 237 L175.9 237.5 L177.2 238.3 L178.2 239.3 L179 240.6 L179.6 242 L180.1 243.5 L180.4 245 L180.8 246.5 L181.1 248 L181.3 249.5 L181.5 251 L181.6 252.5 L181.8 254 L182 255.5 L182.2 257 L182.3 258.5 L182.5 260 L182.6 261.5 L182.8 263 L182.9 264.5 L183.1 266 L183.3 267.5 L183.4 269 L183.6 270.5 L183.7 272 L183.8 273.5 L184 275 L184 275 L184.2 273.5 L184.3 272 L184.5 270.5 L184.6 269 L184.8 267.5 L185 266 L185.1 264.5 L185.3 263 L185.4 261.5 L185.6 260 L185.8 258.5 L185.9 257 L186.1 255.5 L186.2 254 L186.4 252.5 L186.6 251 L186.7 249.5 L186.9 248 L187 246.5 L187.2 245 L187.4 243.5 L187.5 242 L187.7 240.5 L187.8 239 L188 237.5 L188.2 236 L188.3 234.5 L188.5 233 L188.6 231.5 L188.8 230 L189 228.5 L189.1 227 L189.3 225.5 L189.4 224 L189.6 222.5 L189.8 221 L189.9 219.5 L190.1 218 L190.2 216.5 L190.4 215 L190.6 213.5 L190.7 212 L190.9 210.5 L191 209 L191.2 207.5 L191.4 206 L191.6 204.5 L191.8 203 L192 201.5 L192.3 200 L192.6 198.6 L192.9 197.1 L193.3 195.6 L193.6 194.2 L194 192.7 L194.4 191.2 L194.8 189.8 L195.2 188.3 L195.6 186.8 L196 185.4 L196.4 183.9 L196.8 182.5 L197.2 181 L197.6 179.6 L198.1 178.1 L198.5 176.7 L199 175.2 L199.5 173.8 L199.9 172.4 L200.4 171 L200.9 169.5 L201.4 168.1 L201.9 166.7 L202.4 165.2 L202.9 163.8 L203.3 162.3 L203.8 160.9 L204.2 159.4 L204.6 157.9 L205 156.5 L205.4 155 L205.8 153.5 L206.2 152 L206.6 150.5 L207 149 L207.5 147.5 L207.9 146.1 L208.5 144.6 L209.1 143.2 L209.7 141.8 L210.4 140.4 L211.2 139.1 L212 137.8 L212.9 136.6 L213.8 135.4 L214.8 134.3 L215.9 133.3 L217.1 132.3 L218.2 131.4 L219.5 130.5 L220.8 129.7 L222.1 129 L223.4 128.3 L224.8 127.6 L226.2 127 L227.6 126.4 L229.1 125.8 L230.5 125.3 L232 124.7 L233.4 124.2 L234.9 123.7 L236.4 123.2 L237.8 122.6 L239.2 122.1 L240.7 121.5 L242.1 121 L243.5 120.4 L244.9 119.9 L246.4 119.3 L247.8 118.8 L249.2 118.2 L250.6 117.6 L252 117.1 L252.5 116.9" fill="none" stroke="#ff00ff" stroke-width="3.3" stroke-linejoin="round" stroke-linecap="butt"/>
<path d="M68 245.7 L69.5 245.9 L71 246.2 L72.5 246.4 L74 246.6 L75.4 246.9 L76.9 247.1 L78.4 247.3 L79.9 247.6 L81.4 247.8 L82.9 248.1 L84.4 248.3 L85.9 248.5 L87.3 248.8 L88.8 249 L90.3 249.2 L91.8 249.5 L93.3 249.7 L94.8 249.9 L96.3 250.2 L97.8 250.4 L99.2 250.6 L100.7 250.9 L102.2 251.1 L103.7 251.3 L105.2 251.6 L106.7 251.8 L108.2 252.1 L109.7 252.3 L111.2 252.5 L112.6 252.8 L114.1 253 L115.6 253.2 L117.1 253.5 L118.6 253.7 L120.1 253.9 L121.6 254.2 L123.1 254.4 L124.5 254.6 L126 254.9 L127.5 255.1 L129 255.3 L130.5 255.5 L132 255.7 L133.5 255.9 L135 256.1 L136.5 256.3 L138 256.5 L139.5 256.6 L141 256.8 L142.5 257 L144 257.2 L145.5 257.4 L147 257.5 L148.5 257.7 L150 257.9 L151.5 258.1 L153 258.3 L154.5 258.4 L156 258.6 L157.5 258.8 L159 259 L160.5 259.1 L162 259.3 L163.5 259.5 L165 259.7 L166.5 259.9 L168 260 L169.5 260.2 L171 260.4 L172.5 260.6 L174 260.8 L175.4 261.3 L176.8 262 L177.9 262.9 L178.9 264.2 L179.5 265.5 L180.1 267 L180.5 268.5 L180.9 270 L181.1 271.5 L181.3 273 L181.5 274.5 L181.7 276 L181.9 277.5 L182 279 L182.2 280.5 L182.4 282 L182.5 283.5 L182.6 285 L182.7 286.5 L182.8 288 L182.9 289.5 L183 291 L183.1 292.5 L183.2 294 L183.3 295.5 L183.4 297 L183.5 298 L183.6 296.5 L183.8 295 L183.9 293.5 L184 292 L184.2 290.5 L184.3 289 L184.4 287.5 L184.6 286 L184.7 284.5 L184.8 283 L185 281.5 L185.1 280 L185.2 278.5 L185.4 277 L185.5 275.5 L185.7 274 L185.8 272.5 L186 271 L186.2 269.5 L186.4 268 L186.6 266.5 L186.8 265 L187 263.5 L187.2 262.1 L187.5 260.6 L187.7 259.1 L187.9 257.6 L188.2 256.1 L188.4 254.6 L188.6 253.1 L188.9 251.6 L189.1 250.1 L189.3 248.7 L189.6 247.2 L189.8 245.7 L190 244.2 L190.3 242.7 L190.5 241.2 L190.7 239.7 L190.9 238.2 L191.2 236.7 L191.4 235.2 L191.6 233.8 L191.9 232.3 L192.1 230.8 L192.3 229.3 L192.6 227.8 L192.8 226.3 L193 224.8 L193.3 223.3 L193.5 221.8 L193.7 220.4 L194 218.9 L194.2 217.4 L194.4 215.9 L194.7 214.4 L194.9 212.9 L195.1 211.4 L195.4 209.9 L195.6 208.4 L195.8 207 L196.1 205.5 L196.3 204 L196.6 202.5 L196.9 201 L197.2 199.5 L197.5 198.1 L197.8 196.6 L198.1 195.1 L198.5 193.7 L198.8 192.2 L199.2 190.7 L199.5 189.3 L199.9 187.8 L200.3 186.3 L200.6 184.9 L201 183.4 L201.4 181.9 L201.8 180.4 L202.2 179 L202.6 177.5 L203 176 L203.5 174.5 L203.9 173 L204.4 171.5 L204.8 170 L205.3 168.5 L205.8 167 L206.2 165.5 L206.7 164 L207.2 162.5 L207.7 161 L208.1 159.5 L208.6 158 L209.1 156.5 L209.6 155 L210.1 153.6 L210.6 152.1 L211.1 150.7 L211.7 149.3 L212.4 147.9 L213 146.5 L213.8 145.2 L214.5 143.9 L215.4 142.6 L216.2 141.4 L217.2 140.2 L218.2 139.1 L219.3 138.1 L220.4 137.1 L221.6 136.2 L222.9 135.4 L224.2 134.6 L225.5 133.9 L226.9 133.3 L228.3 132.7 L229.7 132.1 L231.2 131.5 L232.6 131 L234.1 130.5 L235.5 130 L237 129.5 L238.4 129.1 L239.9 128.6 L241.3 128.2 L242.8 127.8 L244.2 127.4 L245.7 126.9 L247.2 126.5 L248.6 126.1 L250.1 125.7 L251.5 125.3 L252.5 125" fill="none" stroke="#800080" stroke-width="3.3" stroke-linejoin="round" stroke-linecap="butt"/>
<path d="M68 259.5 L69.5 259.8 L70.9 260.2 L72.4 260.5 L73.9 260.9 L75.3 261.2 L76.8 261.5 L78.3 261.9 L79.7 262.2 L81.2 262.6 L82.7 262.9 L84.1 263.2 L85.6 263.6 L87.1 263.9 L88.5 264.3 L90 264.6 L91.5 264.9 L92.9 265.3 L94.4 265.6 L95.9 265.9 L97.3 266.3 L98.8 266.6 L100.3 267 L101.7 267.3 L103.2 267.6 L104.7 268 L106.1 268.3 L107.6 268.7 L109 269 L110.5 269.3 L112 269.7 L113.4 270 L114.9 270.4 L116.4 270.7 L117.8 271 L119.3 271.4 L120.8 271.7 L122.2 272.1 L123.7 272.4 L125.2 272.7 L126.6 273.1 L128.1 273.4 L129.6 273.8 L131 274.1 L132.5 274.4 L134 274.8 L135.4 275.1 L136.9 275.5 L138.4 275.8 L139.8 276.1 L141.3 276.5 L142.8 276.8 L144.2 277.1 L145.7 277.5 L147.2 277.8 L148.6 278.2 L150.1 278.5 L151.6 278.8 L153 279.2 L154.5 279.5 L156 279.9 L157.4 280.2 L158.9 280.5 L160.4 280.9 L161.8 281.2 L163.3 281.6 L164.8 281.9 L166.2 282.2 L167.7 282.6 L169.2 282.9 L170.6 283.3 L172.1 283.6 L173.5 284 L175 284.5 L176.3 285.1 L177.6 286.1 L178.6 287.2 L179.5 288.6 L180.2 290 L180.7 291.5 L181.2 293 L181.6 294.5 L182 296 L182.4 297.5 L182.8 299 L183.4 300.5 L184 302 L184.5 303 L184.7 301.5 L184.9 300 L185.1 298.5 L185.3 297 L185.4 295.5 L185.6 294 L185.8 292.5 L186 291 L186.2 289.5 L186.4 288 L186.6 286.5 L186.8 285 L186.9 283.5 L187.1 282 L187.3 280.5 L187.5 279 L187.7 277.5 L188 276 L188.2 274.5 L188.4 273 L188.7 271.6 L188.9 270.1 L189.2 268.6 L189.5 267.1 L189.7 265.6 L190 264.1 L190.3 262.7 L190.5 261.2 L190.8 259.7 L191.1 258.2 L191.4 256.7 L191.6 255.3 L191.9 253.8 L192.2 252.3 L192.4 250.8 L192.7 249.3 L193 247.9 L193.3 246.4 L193.5 244.9 L193.8 243.4 L194.1 241.9 L194.4 240.5 L194.6 239 L194.9 237.5 L195.2 236 L195.4 234.5 L195.7 233.1 L196 231.6 L196.3 230.1 L196.5 228.6 L196.8 227.1 L197.1 225.7 L197.4 224.2 L197.6 222.7 L197.9 221.2 L198.2 219.7 L198.4 218.3 L198.7 216.8 L199 215.3 L199.3 213.8 L199.5 212.3 L199.8 210.9 L200.1 209.4 L200.4 207.9 L200.6 206.4 L200.9 204.9 L201.2 203.4 L201.5 202 L201.8 200.5 L202.1 199 L202.4 197.5 L202.7 196 L203 194.5 L203.3 193 L203.7 191.5 L204 190 L204.3 188.5 L204.7 187 L205 185.5 L205.4 184 L205.7 182.5 L206.1 181.1 L206.5 179.6 L206.9 178.1 L207.4 176.7 L207.8 175.3 L208.3 173.8 L208.7 172.4 L209.2 171 L209.7 169.5 L210.2 168.1 L210.7 166.7 L211.2 165.2 L211.7 163.8 L212.1 162.3 L212.6 160.9 L213.1 159.4 L213.6 158 L214.1 156.5 L214.6 155 L215.1 153.6 L215.7 152.2 L216.3 150.8 L216.9 149.4 L217.7 148.1 L218.5 146.8 L219.4 145.7 L220.3 144.6 L221.4 143.6 L222.5 142.6 L223.7 141.8 L225 141.1 L226.3 140.5 L227.7 140 L229.1 139.5 L230.6 139.1 L232 138.8 L233.5 138.5 L235 138.2 L236.5 138 L238 137.8 L239.5 137.7 L241 137.5 L242.5 137.4 L244 137.2 L245.5 137.1 L247 137 L248.5 136.8 L250 136.7 L251.5 136.6 L252.5 136.5" fill="none" stroke="#ee5533" stroke-width="3.3" stroke-linejoin="round" stroke-linecap="butt"/>
<path d="M68 272.9 L69.5 273.3 L70.9 273.6 L72.4 274 L73.9 274.3 L75.3 274.7 L76.8 275 L78.3 275.4 L79.7 275.8 L81.2 276.1 L82.6 276.5 L84.1 276.8 L85.6 277.2 L87 277.5 L88.5 277.9 L90 278.3 L91.4 278.6 L92.9 279 L94.4 279.3 L95.8 279.7 L97.3 280 L98.8 280.4 L100.2 280.7 L101.7 281.1 L103.1 281.5 L104.6 281.8 L106.1 282.2 L107.5 282.5 L109 282.9 L110.5 283.2 L111.9 283.6 L113.4 284 L114.9 284.3 L116.3 284.7 L117.8 285 L119.3 285.4 L120.7 285.7 L122.2 286.1 L123.7 286.5 L125.1 286.8 L126.6 287.2 L128 287.5 L129.5 287.9 L131 288.3 L132.4 288.6 L133.9 289 L135.4 289.4 L136.8 289.8 L138.3 290.1 L139.8 290.5 L141.3 290.9 L142.7 291.3 L144.2 291.6 L145.7 292 L147.1 292.4 L148.6 292.8 L150.1 293.1 L151.5 293.5 L153 293.9 L154.5 294.3 L155.9 294.6 L157.4 295 L158.9 295.4 L160.3 295.8 L161.8 296.1 L163.3 296.5 L164.7 296.9 L166.2 297.3 L167.7 297.6 L169.1 298 L170.6 298.4 L172.1 298.8 L173.5 299.2 L174.9 299.7 L176.3 300.4 L177.6 301.2 L178.9 302.2 L180.1 303.2 L181.2 304.3 L182.2 305.4 L183.2 306.6 L184.1 307.8 L184.9 309.1 L185.7 310.4 L186.4 311.7 L187.1 313.1 L187.3 313.5 L187.5 312 L187.7 310.5 L187.9 309 L188.1 307.5 L188.3 306 L188.5 304.5 L188.7 303 L188.9 301.5 L189.1 300 L189.3 298.5 L189.5 297 L189.7 295.5 L189.9 294 L190.1 292.5 L190.3 291 L190.5 289.5 L190.7 288 L190.9 286.5 L191.2 285 L191.4 283.5 L191.6 282 L191.8 280.5 L192 279 L192.2 277.5 L192.4 276 L192.7 274.5 L192.9 273 L193.1 271.6 L193.4 270.1 L193.6 268.6 L193.9 267.1 L194.2 265.6 L194.4 264.1 L194.7 262.7 L195 261.2 L195.2 259.7 L195.5 258.2 L195.7 256.7 L196 255.3 L196.3 253.8 L196.5 252.3 L196.8 250.8 L197 249.3 L197.3 247.9 L197.6 246.4 L197.8 244.9 L198.1 243.4 L198.4 241.9 L198.6 240.5 L198.9 239 L199.2 237.5 L199.4 236 L199.7 234.5 L199.9 233.1 L200.2 231.6 L200.5 230.1 L200.7 228.6 L201 227.1 L201.2 225.7 L201.5 224.2 L201.8 222.7 L202 221.2 L202.3 219.7 L202.6 218.3 L202.8 216.8 L203.1 215.3 L203.3 213.8 L203.6 212.3 L203.9 210.9 L204.1 209.4 L204.4 207.9 L204.7 206.4 L204.9 204.9 L205.2 203.5 L205.5 202 L205.8 200.5 L206.1 199 L206.4 197.6 L206.7 196.1 L207.1 194.6 L207.4 193.2 L207.8 191.7 L208.1 190.2 L208.4 188.8 L208.8 187.3 L209.2 185.9 L209.5 184.4 L209.9 182.9 L210.3 181.5 L210.8 180 L211.2 178.6 L211.7 177.2 L212.2 175.7 L212.7 174.3 L213.2 172.9 L213.7 171.4 L214.3 170 L214.8 168.6 L215.3 167.1 L215.9 165.7 L216.4 164.3 L217 162.9 L217.5 161.5 L218.1 160.1 L218.8 158.7 L219.5 157.4 L220.3 156.2 L221.2 155 L222.1 154 L223.2 153 L224.3 152.2 L225.5 151.5 L226.8 150.9 L228.2 150.5 L229.6 150.1 L231 149.8 L232.5 149.6 L234 149.4 L235.5 149.2 L237 149.1 L238.5 149 L240 148.9 L241.5 148.8 L243 148.6 L244.5 148.5 L246 148.4 L247.5 148.3 L249 148.2 L250.5 148.1 L252 148 L252.5 148" fill="none" stroke="#ffee00" stroke-width="3.3" stroke-linejoin="round" stroke-linecap="butt"/>
<line x1="69.1" y1="297.8" x2="87.8" y2="297.8" stroke="#808080" stroke-width="3.8" stroke-linecap="round"/>
<line x1="114.6" y1="297.8" x2="133.3" y2="297.8" stroke="#808080" stroke-width="3.8" stroke-linecap="round"/>
<line x1="159.9" y1="297.8" x2="178.6" y2="297.8" stroke="#808080" stroke-width="3.8" stroke-linecap="round"/>
<line x1="205.1" y1="297.8" x2="223.8" y2="297.8" stroke="#808080" stroke-width="3.8" stroke-linecap="round"/>
<line x1="250.4" y1="297.8" x2="252.5" y2="297.8" stroke="#808080" stroke-width="3.8" stroke-linecap="round"/>
<text transform="translate(64 76.7) scale(1.07 1)" font-size="17.5" text-anchor="end" font-family="Liberation Sans" font-weight="bold">10<tspan font-size="10" dy="-10">2</tspan></text>
<text transform="translate(64 101.7) scale(1.07 1)" font-size="17.5" text-anchor="end" font-family="Liberation Sans" font-weight="bold">10<tspan font-size="10" dy="-10">1</tspan></text>
<text transform="translate(64 126.7) scale(1.07 1)" font-size="17.5" text-anchor="end" font-family="Liberation Sans" font-weight="bold">10<tspan font-size="10" dy="-10">0</tspan></text>
<text transform="translate(64 151.7) scale(1.07 1)" font-size="17.5" text-anchor="end" font-family="Liberation Sans" font-weight="bold">10<tspan font-size="10" dy="-10">-1</tspan></text>
<text transform="translate(64 176.7) scale(1.07 1)" font-size="17.5" text-anchor="end" font-family="Liberation Sans" font-weight="bold">10<tspan font-size="10" dy="-10">-2</tspan></text>
<text transform="translate(64 201.7) scale(1.07 1)" font-size="17.5" text-anchor="end" font-family="Liberation Sans" font-weight="bold">10<tspan font-size="10" dy="-10">-3</tspan></text>
<text transform="translate(64 226.7) scale(1.07 1)" font-size="17.5" text-anchor="end" font-family="Liberation Sans" font-weight="bold">10<tspan font-size="10" dy="-10">-4</tspan></text>
<text transform="translate(64 251.7) scale(1.07 1)" font-size="17.5" text-anchor="end" font-family="Liberation Sans" font-weight="bold">10<tspan font-size="10" dy="-10">-5</tspan></text>
<text transform="translate(64 276.7) scale(1.07 1)" font-size="17.5" text-anchor="end" font-family="Liberation Sans" font-weight="bold">10<tspan font-size="10" dy="-10">-6</tspan></text>
<text transform="translate(64 301.7) scale(1.07 1)" font-size="17.5" text-anchor="end" font-family="Liberation Sans" font-weight="bold">10<tspan font-size="10" dy="-10">-7</tspan></text>
<text transform="translate(64 326.7) scale(1.07 1)" font-size="17.5" text-anchor="end" font-family="Liberation Sans" font-weight="bold">10<tspan font-size="10" dy="-10">-8</tspan></text>
<text x="68" y="333.5" font-size="14" text-anchor="middle" fill="#000" font-family="Liberation Sans" font-weight="bold">-0.50</text>
<text x="125.6" y="333.5" font-size="14" text-anchor="middle" fill="#000" font-family="Liberation Sans" font-weight="bold">-0.25</text>
<text x="183.2" y="333.5" font-size="14" text-anchor="middle" fill="#000" font-family="Liberation Sans" font-weight="bold">0.00</text>
<text x="240.8" y="333.5" font-size="14" text-anchor="middle" fill="#000" font-family="Liberation Sans" font-weight="bold">0.25</text>
<text x="162.2" y="355.9" font-size="16" text-anchor="middle" fill="#000" font-family="Liberation Sans" font-weight="bold">Bias Voltage (V)</text>
<text transform="translate(28.7 271) rotate(-90) scale(1 1.0)" font-size="15.3" fill="#000" font-family="Liberation Sans" font-weight="bold">Dark Current (A / cm</text>
<text transform="translate(22.3 115) rotate(-90) scale(1 1.0)" font-size="8.5" fill="#000" font-family="Liberation Sans" font-weight="bold">2</text>
<text transform="translate(28.7 107.5) rotate(-90) scale(1 1.0)" font-size="15.3" fill="#000" font-family="Liberation Sans" font-weight="bold">)</text>
<text x="140.4" y="311.8" font-size="12.4" text-anchor="middle" fill="#000" font-family="Liberation Sans" font-weight="bold">System-limit</text>
<text x="93.4" y="155.6" font-size="14.5" text-anchor="middle" fill="#1212f0" font-family="Liberation Sans" font-weight="bold">MWIR</text>
<text x="224.2" y="91.2" font-size="14.5" text-anchor="middle" fill="#e61515" font-family="Liberation Sans" font-weight="bold">LWIR</text>
<text transform="translate(65.9 30.2) scale(1.07 1)" font-size="26" text-anchor="middle" fill="#f01010" font-family="Liberation Serif" font-weight="bold">(a)</text>
<rect x="119.2" y="34.2" width="63.5" height="126" fill="#fff" stroke="#000" stroke-width="0.8"/>
<rect x="182.5" y="37.6" width="3" height="126" fill="#000"/>
<rect x="122.6" y="160.6" width="63" height="3" fill="#000"/>
<line x1="125" y1="45.3" x2="151" y2="45.3" stroke="#087a08" stroke-width="3.5" stroke-linecap="round"/>
<text x="152.5" y="49" font-size="10.3" text-anchor="start" fill="#000" font-family="Liberation Sans" font-weight="bold">180K</text>
<line x1="125" y1="58.3" x2="151" y2="58.3" stroke="#0a0aff" stroke-width="3.5" stroke-linecap="round"/>
<text x="152.5" y="62" font-size="10.3" text-anchor="start" fill="#000" font-family="Liberation Sans" font-weight="bold">170K</text>
<line x1="125" y1="71.4" x2="151" y2="71.4" stroke="#ff0000" stroke-width="3.5" stroke-linecap="round"/>
<text x="152.5" y="75.1" font-size="10.3" text-anchor="start" fill="#000" font-family="Liberation Sans" font-weight="bold">160K</text>
<line x1="125" y1="84.4" x2="141" y2="84.4" stroke="#000" stroke-width="3.5" stroke-linecap="round"/>
<text x="152.5" y="88.1" font-size="10.3" text-anchor="start" fill="#000" font-family="Liberation Sans" font-weight="bold">150K</text>
<line x1="125" y1="97.4" x2="151" y2="97.4" stroke="#ff00ff" stroke-width="3.5" stroke-linecap="round"/>
<text x="152.5" y="101.1" font-size="10.3" text-anchor="start" fill="#000" font-family="Liberation Sans" font-weight="bold">140K</text>
<line x1="125" y1="110.4" x2="151" y2="110.4" stroke="#800080" stroke-width="3.5" stroke-linecap="round"/>
<text x="152.5" y="114.1" font-size="10.3" text-anchor="start" fill="#000" font-family="Liberation Sans" font-weight="bold">130K</text>
<line x1="125" y1="123.5" x2="151" y2="123.5" stroke="#ee5533" stroke-width="3.5" stroke-linecap="round"/>
<text x="152.5" y="127.2" font-size="10.3" text-anchor="start" fill="#000" font-family="Liberation Sans" font-weight="bold">120K</text>
<line x1="125" y1="136.5" x2="151" y2="136.5" stroke="#ffee00" stroke-width="3.5" stroke-linecap="round"/>
<text x="152.5" y="140.2" font-size="10.3" text-anchor="start" fill="#000" font-family="Liberation Sans" font-weight="bold">110K</text>
<line x1="125" y1="149.5" x2="151" y2="149.5" stroke="#000" stroke-width="3.5" stroke-linecap="round"/>
<text x="152.5" y="153.2" font-size="10.3" text-anchor="start" fill="#000" font-family="Liberation Sans" font-weight="bold">077K</text>
<line x1="323.8" y1="293.6" x2="510.3" y2="293.6" stroke="#bdbdbd" stroke-width="1" stroke-dasharray="1 5"/>
<line x1="323.8" y1="278.2" x2="510.3" y2="278.2" stroke="#bdbdbd" stroke-width="1" stroke-dasharray="1 5"/>
<line x1="323.8" y1="267.3" x2="510.3" y2="267.3" stroke="#bdbdbd" stroke-width="1" stroke-dasharray="1 5"/>
<line x1="323.8" y1="258.8" x2="510.3" y2="258.8" stroke="#bdbdbd" stroke-width="1" stroke-dasharray="1 5"/>
<line x1="323.8" y1="251.8" x2="510.3" y2="251.8" stroke="#bdbdbd" stroke-width="1" stroke-dasharray="1 5"/>
<line x1="323.8" y1="246" x2="510.3" y2="246" stroke="#bdbdbd" stroke-width="1" stroke-dasharray="1 5"/>
<line x1="323.8" y1="240.9" x2="510.3" y2="240.9" stroke="#bdbdbd" stroke-width="1" stroke-dasharray="1 5"/>
<line x1="323.8" y1="236.4" x2="510.3" y2="236.4" stroke="#bdbdbd" stroke-width="1" stroke-dasharray="1 5"/>
<line x1="323.8" y1="206" x2="510.3" y2="206" stroke="#bdbdbd" stroke-width="1" stroke-dasharray="1 5"/>
<line x1="323.8" y1="190.6" x2="510.3" y2="190.6" stroke="#bdbdbd" stroke-width="1" stroke-dasharray="1 5"/>
<line x1="323.8" y1="179.7" x2="510.3" y2="179.7" stroke="#bdbdbd" stroke-width="1" stroke-dasharray="1 5"/>
<line x1="323.8" y1="171.2" x2="510.3" y2="171.2" stroke="#bdbdbd" stroke-width="1" stroke-dasharray="1 5"/>
<line x1="323.8" y1="164.2" x2="510.3" y2="164.2" stroke="#bdbdbd" stroke-width="1" stroke-dasharray="1 5"/>
<line x1="323.8" y1="158.4" x2="510.3" y2="158.4" stroke="#bdbdbd" stroke-width="1" stroke-dasharray="1 5"/>
<line x1="323.8" y1="153.3" x2="510.3" y2="153.3" stroke="#bdbdbd" stroke-width="1" stroke-dasharray="1 5"/>
<line x1="323.8" y1="148.8" x2="510.3" y2="148.8" stroke="#bdbdbd" stroke-width="1" stroke-dasharray="1 5"/>
<line x1="323.8" y1="118.4" x2="510.3" y2="118.4" stroke="#bdbdbd" stroke-width="1" stroke-dasharray="1 5"/>
<line x1="323.8" y1="103" x2="510.3" y2="103" stroke="#bdbdbd" stroke-width="1" stroke-dasharray="1 5"/>
<line x1="323.8" y1="92.1" x2="510.3" y2="92.1" stroke="#bdbdbd" stroke-width="1" stroke-dasharray="1 5"/>
<line x1="323.8" y1="83.6" x2="510.3" y2="83.6" stroke="#bdbdbd" stroke-width="1" stroke-dasharray="1 5"/>
<line x1="323.8" y1="76.6" x2="510.3" y2="76.6" stroke="#bdbdbd" stroke-width="1" stroke-dasharray="1 5"/>
<line x1="323.8" y1="70.8" x2="510.3" y2="70.8" stroke="#bdbdbd" stroke-width="1" stroke-dasharray="1 5"/>
<line x1="323.8" y1="65.7" x2="510.3" y2="65.7" stroke="#bdbdbd" stroke-width="1" stroke-dasharray="1 5"/>
<line x1="323.8" y1="61.2" x2="510.3" y2="61.2" stroke="#bdbdbd" stroke-width="1" stroke-dasharray="1 5"/>
<line x1="343.1" y1="57.2" x2="343.1" y2="320" stroke="#bdbdbd" stroke-width="1" stroke-dasharray="1 5"/>
<line x1="362.8" y1="57.2" x2="362.8" y2="320" stroke="#bdbdbd" stroke-width="1" stroke-dasharray="1 5"/>
<line x1="382.5" y1="57.2" x2="382.5" y2="320" stroke="#bdbdbd" stroke-width="1" stroke-dasharray="1 5"/>
<line x1="402.1" y1="57.2" x2="402.1" y2="320" stroke="#bdbdbd" stroke-width="1" stroke-dasharray="1 5"/>
<line x1="421.8" y1="57.2" x2="421.8" y2="320" stroke="#bdbdbd" stroke-width="1" stroke-dasharray="1 5"/>
<line x1="441.5" y1="57.2" x2="441.5" y2="320" stroke="#bdbdbd" stroke-width="1" stroke-dasharray="1 5"/>
<line x1="461.2" y1="57.2" x2="461.2" y2="320" stroke="#bdbdbd" stroke-width="1" stroke-dasharray="1 5"/>
<line x1="480.8" y1="57.2" x2="480.8" y2="320" stroke="#bdbdbd" stroke-width="1" stroke-dasharray="1 5"/>
<line x1="500.5" y1="57.2" x2="500.5" y2="320" stroke="#bdbdbd" stroke-width="1" stroke-dasharray="1 5"/>
<line x1="333.3" y1="57.2" x2="333.3" y2="320" stroke="#bfbfbf" stroke-width="1.2"/>
<line x1="353" y1="57.2" x2="353" y2="320" stroke="#bfbfbf" stroke-width="1.2"/>
<line x1="372.6" y1="57.2" x2="372.6" y2="320" stroke="#bfbfbf" stroke-width="1.2"/>
<line x1="392.3" y1="57.2" x2="392.3" y2="320" stroke="#bfbfbf" stroke-width="1.2"/>
<line x1="412" y1="57.2" x2="412" y2="320" stroke="#bfbfbf" stroke-width="1.2"/>
<line x1="431.7" y1="57.2" x2="431.7" y2="320" stroke="#bfbfbf" stroke-width="1.2"/>
<line x1="451.3" y1="57.2" x2="451.3" y2="320" stroke="#bfbfbf" stroke-width="1.2"/>
<line x1="471" y1="57.2" x2="471" y2="320" stroke="#bfbfbf" stroke-width="1.2"/>
<line x1="490.7" y1="57.2" x2="490.7" y2="320" stroke="#bfbfbf" stroke-width="1.2"/>
<line x1="323.8" y1="232.4" x2="510.3" y2="232.4" stroke="#b5b5b5" stroke-width="1.2"/>
<line x1="323.8" y1="144.8" x2="510.3" y2="144.8" stroke="#b5b5b5" stroke-width="1.2"/>
<line x1="333.3" y1="320" x2="333.3" y2="316" stroke="#000" stroke-width="1"/>
<line x1="333.3" y1="57.2" x2="333.3" y2="61.2" stroke="#000" stroke-width="1"/>
<line x1="323.5" y1="320" x2="323.5" y2="317.5" stroke="#000" stroke-width="1"/>
<line x1="323.5" y1="57.2" x2="323.5" y2="59.7" stroke="#000" stroke-width="1"/>
<line x1="353" y1="320" x2="353" y2="316" stroke="#000" stroke-width="1"/>
<line x1="353" y1="57.2" x2="353" y2="61.2" stroke="#000" stroke-width="1"/>
<line x1="343.1" y1="320" x2="343.1" y2="317.5" stroke="#000" stroke-width="1"/>
<line x1="343.1" y1="57.2" x2="343.1" y2="59.7" stroke="#000" stroke-width="1"/>
<line x1="372.6" y1="320" x2="372.6" y2="316" stroke="#000" stroke-width="1"/>
<line x1="372.6" y1="57.2" x2="372.6" y2="61.2" stroke="#000" stroke-width="1"/>
<line x1="362.8" y1="320" x2="362.8" y2="317.5" stroke="#000" stroke-width="1"/>
<line x1="362.8" y1="57.2" x2="362.8" y2="59.7" stroke="#000" stroke-width="1"/>
<line x1="392.3" y1="320" x2="392.3" y2="316" stroke="#000" stroke-width="1"/>
<line x1="392.3" y1="57.2" x2="392.3" y2="61.2" stroke="#000" stroke-width="1"/>
<line x1="382.5" y1="320" x2="382.5" y2="317.5" stroke="#000" stroke-width="1"/>
<line x1="382.5" y1="57.2" x2="382.5" y2="59.7" stroke="#000" stroke-width="1"/>
<line x1="412" y1="320" x2="412" y2="316" stroke="#000" stroke-width="1"/>
<line x1="412" y1="57.2" x2="412" y2="61.2" stroke="#000" stroke-width="1"/>
<line x1="402.1" y1="320" x2="402.1" y2="317.5" stroke="#000" stroke-width="1"/>
<line x1="402.1" y1="57.2" x2="402.1" y2="59.7" stroke="#000" stroke-width="1"/>
<line x1="431.7" y1="320" x2="431.7" y2="316" stroke="#000" stroke-width="1"/>
<line x1="431.7" y1="57.2" x2="431.7" y2="61.2" stroke="#000" stroke-width="1"/>
<line x1="421.8" y1="320" x2="421.8" y2="317.5" stroke="#000" stroke-width="1"/>
<line x1="421.8" y1="57.2" x2="421.8" y2="59.7" stroke="#000" stroke-width="1"/>
<line x1="451.3" y1="320" x2="451.3" y2="316" stroke="#000" stroke-width="1"/>
<line x1="451.3" y1="57.2" x2="451.3" y2="61.2" stroke="#000" stroke-width="1"/>
<line x1="441.5" y1="320" x2="441.5" y2="317.5" stroke="#000" stroke-width="1"/>
<line x1="441.5" y1="57.2" x2="441.5" y2="59.7" stroke="#000" stroke-width="1"/>
<line x1="471" y1="320" x2="471" y2="316" stroke="#000" stroke-width="1"/>
<line x1="471" y1="57.2" x2="471" y2="61.2" stroke="#000" stroke-width="1"/>
<line x1="461.2" y1="320" x2="461.2" y2="317.5" stroke="#000" stroke-width="1"/>
<line x1="461.2" y1="57.2" x2="461.2" y2="59.7" stroke="#000" stroke-width="1"/>
<line x1="490.7" y1="320" x2="490.7" y2="316" stroke="#000" stroke-width="1"/>
<line x1="490.7" y1="57.2" x2="490.7" y2="61.2" stroke="#000" stroke-width="1"/>
<line x1="480.8" y1="320" x2="480.8" y2="317.5" stroke="#000" stroke-width="1"/>
<line x1="480.8" y1="57.2" x2="480.8" y2="59.7" stroke="#000" stroke-width="1"/>
<line x1="510.3" y1="320" x2="510.3" y2="316" stroke="#000" stroke-width="1"/>
<line x1="510.3" y1="57.2" x2="510.3" y2="61.2" stroke="#000" stroke-width="1"/>
<line x1="500.5" y1="320" x2="500.5" y2="317.5" stroke="#000" stroke-width="1"/>
<line x1="500.5" y1="57.2" x2="500.5" y2="59.7" stroke="#000" stroke-width="1"/>
<line x1="323.8" y1="320" x2="327.8" y2="320" stroke="#000" stroke-width="1"/>
<line x1="510.3" y1="320" x2="506.3" y2="320" stroke="#000" stroke-width="1"/>
<line x1="323.8" y1="293.6" x2="326.3" y2="293.6" stroke="#000" stroke-width="1"/>
<line x1="510.3" y1="293.6" x2="507.8" y2="293.6" stroke="#000" stroke-width="1"/>
<line x1="323.8" y1="278.2" x2="326.3" y2="278.2" stroke="#000" stroke-width="1"/>
<line x1="510.3" y1="278.2" x2="507.8" y2="278.2" stroke="#000" stroke-width="1"/>
<line x1="323.8" y1="267.3" x2="326.3" y2="267.3" stroke="#000" stroke-width="1"/>
<line x1="510.3" y1="267.3" x2="507.8" y2="267.3" stroke="#000" stroke-width="1"/>
<line x1="323.8" y1="258.8" x2="326.3" y2="258.8" stroke="#000" stroke-width="1"/>
<line x1="510.3" y1="258.8" x2="507.8" y2="258.8" stroke="#000" stroke-width="1"/>
<line x1="323.8" y1="251.8" x2="326.3" y2="251.8" stroke="#000" stroke-width="1"/>
<line x1="510.3" y1="251.8" x2="507.8" y2="251.8" stroke="#000" stroke-width="1"/>
<line x1="323.8" y1="246" x2="326.3" y2="246" stroke="#000" stroke-width="1"/>
<line x1="510.3" y1="246" x2="507.8" y2="246" stroke="#000" stroke-width="1"/>
<line x1="323.8" y1="240.9" x2="326.3" y2="240.9" stroke="#000" stroke-width="1"/>
<line x1="510.3" y1="240.9" x2="507.8" y2="240.9" stroke="#000" stroke-width="1"/>
<line x1="323.8" y1="236.4" x2="326.3" y2="236.4" stroke="#000" stroke-width="1"/>
<line x1="510.3" y1="236.4" x2="507.8" y2="236.4" stroke="#000" stroke-width="1"/>
<line x1="323.8" y1="232.4" x2="327.8" y2="232.4" stroke="#000" stroke-width="1"/>
<line x1="510.3" y1="232.4" x2="506.3" y2="232.4" stroke="#000" stroke-width="1"/>
<line x1="323.8" y1="206" x2="326.3" y2="206" stroke="#000" stroke-width="1"/>
<line x1="510.3" y1="206" x2="507.8" y2="206" stroke="#000" stroke-width="1"/>
<line x1="323.8" y1="190.6" x2="326.3" y2="190.6" stroke="#000" stroke-width="1"/>
<line x1="510.3" y1="190.6" x2="507.8" y2="190.6" stroke="#000" stroke-width="1"/>
<line x1="323.8" y1="179.7" x2="326.3" y2="179.7" stroke="#000" stroke-width="1"/>
<line x1="510.3" y1="179.7" x2="507.8" y2="179.7" stroke="#000" stroke-width="1"/>
<line x1="323.8" y1="171.2" x2="326.3" y2="171.2" stroke="#000" stroke-width="1"/>
<line x1="510.3" y1="171.2" x2="507.8" y2="171.2" stroke="#000" stroke-width="1"/>
<line x1="323.8" y1="164.2" x2="326.3" y2="164.2" stroke="#000" stroke-width="1"/>
<line x1="510.3" y1="164.2" x2="507.8" y2="164.2" stroke="#000" stroke-width="1"/>
<line x1="323.8" y1="158.4" x2="326.3" y2="158.4" stroke="#000" stroke-width="1"/>
<line x1="510.3" y1="158.4" x2="507.8" y2="158.4" stroke="#000" stroke-width="1"/>
<line x1="323.8" y1="153.3" x2="326.3" y2="153.3" stroke="#000" stroke-width="1"/>
<line x1="510.3" y1="153.3" x2="507.8" y2="153.3" stroke="#000" stroke-width="1"/>
<line x1="323.8" y1="148.8" x2="326.3" y2="148.8" stroke="#000" stroke-width="1"/>
<line x1="510.3" y1="148.8" x2="507.8" y2="148.8" stroke="#000" stroke-width="1"/>
<line x1="323.8" y1="144.8" x2="327.8" y2="144.8" stroke="#000" stroke-width="1"/>
<line x1="510.3" y1="144.8" x2="506.3" y2="144.8" stroke="#000" stroke-width="1"/>
<line x1="323.8" y1="118.4" x2="326.3" y2="118.4" stroke="#000" stroke-width="1"/>
<line x1="510.3" y1="118.4" x2="507.8" y2="118.4" stroke="#000" stroke-width="1"/>
<line x1="323.8" y1="103" x2="326.3" y2="103" stroke="#000" stroke-width="1"/>
<line x1="510.3" y1="103" x2="507.8" y2="103" stroke="#000" stroke-width="1"/>
<line x1="323.8" y1="92.1" x2="326.3" y2="92.1" stroke="#000" stroke-width="1"/>
<line x1="510.3" y1="92.1" x2="507.8" y2="92.1" stroke="#000" stroke-width="1"/>
<line x1="323.8" y1="83.6" x2="326.3" y2="83.6" stroke="#000" stroke-width="1"/>
<line x1="510.3" y1="83.6" x2="507.8" y2="83.6" stroke="#000" stroke-width="1"/>
<line x1="323.8" y1="76.6" x2="326.3" y2="76.6" stroke="#000" stroke-width="1"/>
<line x1="510.3" y1="76.6" x2="507.8" y2="76.6" stroke="#000" stroke-width="1"/>
<line x1="323.8" y1="70.8" x2="326.3" y2="70.8" stroke="#000" stroke-width="1"/>
<line x1="510.3" y1="70.8" x2="507.8" y2="70.8" stroke="#000" stroke-width="1"/>
<line x1="323.8" y1="65.7" x2="326.3" y2="65.7" stroke="#000" stroke-width="1"/>
<line x1="510.3" y1="65.7" x2="507.8" y2="65.7" stroke="#000" stroke-width="1"/>
<line x1="323.8" y1="61.2" x2="326.3" y2="61.2" stroke="#000" stroke-width="1"/>
<line x1="510.3" y1="61.2" x2="507.8" y2="61.2" stroke="#000" stroke-width="1"/>
<rect x="323.8" y="57.2" width="186.5" height="262.8" fill="none" stroke="#000" stroke-width="1.6"/>
<line x1="324.8" y1="205.1" x2="509.3" y2="205.1" stroke="#ff00ff" stroke-width="3.5" stroke-dasharray="5.2 8.2" stroke-linecap="round" stroke-dashoffset="-7.85"/>
<path d="M344.2 282.1 L350.7 257 L358.2 228.5 L366.2 198.9 L375.9 164.9 L386.3 124.8 L398.8 87.3 L413.7 63 L431.6 67 L442.2 66.8 L453.7 66.8 L466.2 72.2 L489.9 74.1" fill="none" stroke="#1010f0" stroke-width="3" stroke-dasharray="7 4"/>
<line x1="338.8" y1="296.5" x2="404.9" y2="57.2" stroke="#7a1480" stroke-width="3" stroke-linecap="round"/>
<defs><radialGradient id="sph" cx="0.42" cy="0.38" r="0.6"><stop offset="0" stop-color="#c8d0ff"/><stop offset="0.3" stop-color="#3a3aff"/><stop offset="1" stop-color="#0000c0"/></radialGradient></defs>
<circle cx="344.2" cy="282.1" r="5.6" fill="url(#sph)"/>
<circle cx="350.7" cy="257" r="5.6" fill="url(#sph)"/>
<circle cx="358.2" cy="228.5" r="5.6" fill="url(#sph)"/>
<circle cx="366.2" cy="198.9" r="5.6" fill="url(#sph)"/>
<circle cx="375.9" cy="164.9" r="5.6" fill="url(#sph)"/>
<circle cx="386.3" cy="124.8" r="5.6" fill="url(#sph)"/>
<circle cx="398.8" cy="87.3" r="5.6" fill="url(#sph)"/>
<circle cx="413.7" cy="63" r="5.6" fill="url(#sph)"/>
<circle cx="431.6" cy="67" r="5.6" fill="url(#sph)"/>
<circle cx="442.2" cy="66.8" r="5.6" fill="url(#sph)"/>
<circle cx="453.7" cy="66.8" r="5.6" fill="url(#sph)"/>
<circle cx="466.2" cy="72.2" r="5.6" fill="url(#sph)"/>
<circle cx="489.9" cy="74.1" r="5.6" fill="url(#sph)"/>
<line x1="325.6" y1="68.7" x2="344.1" y2="68.7" stroke="#808080" stroke-width="4" stroke-linecap="round"/>
<line x1="369.2" y1="68.7" x2="387.7" y2="68.7" stroke="#808080" stroke-width="4" stroke-linecap="round"/>
<line x1="414.3" y1="68.7" x2="432.8" y2="68.7" stroke="#808080" stroke-width="4" stroke-linecap="round"/>
<line x1="459.2" y1="68.7" x2="477.7" y2="68.7" stroke="#808080" stroke-width="4" stroke-linecap="round"/>
<line x1="504.2" y1="68.7" x2="510.3" y2="68.7" stroke="#808080" stroke-width="4" stroke-linecap="round"/>
<line x1="338.8" y1="296.5" x2="404.9" y2="57.2" stroke="#7a1480" stroke-width="3" stroke-linecap="round" opacity="0.9"/>
<text x="319" y="62.7" font-size="17.5" text-anchor="end" font-family="Liberation Sans" font-weight="bold">10<tspan font-size="10" dy="-9.5">13</tspan></text>
<text x="319" y="151.3" font-size="17.5" text-anchor="end" font-family="Liberation Sans" font-weight="bold">10<tspan font-size="10" dy="-9.5">12</tspan></text>
<text x="319" y="239.2" font-size="17.5" text-anchor="end" font-family="Liberation Sans" font-weight="bold">10<tspan font-size="10" dy="-9.5">11</tspan></text>
<text x="319" y="327.7" font-size="17.5" text-anchor="end" font-family="Liberation Sans" font-weight="bold">10<tspan font-size="10" dy="-9.5">10</tspan></text>
<text x="333.3" y="336.6" font-size="13" text-anchor="middle" fill="#000" font-family="Liberation Sans" font-weight="bold">5</text>
<text x="353" y="336.6" font-size="13" text-anchor="middle" fill="#000" font-family="Liberation Sans" font-weight="bold">6</text>
<text x="372.6" y="336.6" font-size="13" text-anchor="middle" fill="#000" font-family="Liberation Sans" font-weight="bold">7</text>
<text x="392.3" y="336.6" font-size="13" text-anchor="middle" fill="#000" font-family="Liberation Sans" font-weight="bold">8</text>
<text x="412" y="336.6" font-size="13" text-anchor="middle" fill="#000" font-family="Liberation Sans" font-weight="bold">9</text>
<text x="431.7" y="336.6" font-size="13" text-anchor="middle" fill="#000" font-family="Liberation Sans" font-weight="bold">10</text>
<text x="451.3" y="336.6" font-size="13" text-anchor="middle" fill="#000" font-family="Liberation Sans" font-weight="bold">11</text>
<text x="471" y="336.6" font-size="13" text-anchor="middle" fill="#000" font-family="Liberation Sans" font-weight="bold">12</text>
<text x="490.7" y="336.6" font-size="13" text-anchor="middle" fill="#000" font-family="Liberation Sans" font-weight="bold">13</text>
<text x="510.3" y="336.6" font-size="13" text-anchor="middle" fill="#000" font-family="Liberation Sans" font-weight="bold">14</text>
<text x="417.3" y="357.8" font-size="16" text-anchor="middle" fill="#000" font-family="Liberation Sans" font-weight="bold">1000/T(K)</text>
<text x="351.3" y="46.9" font-size="13" text-anchor="middle" fill="#000" font-family="Liberation Sans" font-weight="bold">180K</text>
<text x="416.8" y="46.9" font-size="13" text-anchor="middle" fill="#000" font-family="Liberation Sans" font-weight="bold">110K</text>
<text x="494" y="46.9" font-size="13" text-anchor="middle" fill="#000" font-family="Liberation Sans" font-weight="bold">77K</text>
<text x="355.6" y="81.4" font-size="12.2" text-anchor="middle" fill="#000" font-family="Liberation Sans" font-weight="bold">System-limit</text>
<text x="446.5" y="196.6" font-size="12.4" text-anchor="middle" fill="#ff00ff" font-family="Liberation Sans" font-weight="bold">BLIP Detectivity</text>
<text x="446.8" y="220.5" font-size="12.3" text-anchor="middle" fill="#ff00ff" font-family="Liberation Sans" font-weight="bold">2<tspan font-size="10">π</tspan> FOV, 300K BG</text>
<text transform="translate(284.8 30.2) scale(1.07 1)" font-size="26" text-anchor="middle" fill="#f01010" font-family="Liberation Serif" font-weight="bold">(b)</text>
<text transform="translate(286.1 260.5) rotate(-90) scale(1 1.0)" font-size="17.5" fill="#000" font-family="Liberation Sans" font-weight="bold">D* (cm. Hz</text>
<text transform="translate(276.3 171) rotate(-90) scale(1 1.0)" font-size="10.5" fill="#000" font-family="Liberation Sans" font-weight="bold">1/2</text>
<text transform="translate(286.1 154.8) rotate(-90) scale(1 1.0)" font-size="17.5" fill="#000" font-family="Liberation Sans" font-weight="bold">.</text>
<text transform="translate(286.1 144.8) rotate(-90) scale(1 1.0)" font-size="17.5" fill="#000" font-family="Liberation Sans" font-weight="bold">W</text>
<text transform="translate(276.3 124.5) rotate(-90) scale(1 1.0)" font-size="10.5" fill="#000" font-family="Liberation Sans" font-weight="bold">-1</text>
<text transform="translate(286.3 115.8) rotate(-90) scale(1 1.0)" font-size="17.5" fill="#000" font-family="Liberation Sans" font-weight="bold">)</text>
<line x1="561.6" y1="142.7" x2="734.8" y2="142.7" stroke="#c8c8c8" stroke-width="1.1"/>
<line x1="561.6" y1="123.1" x2="734.8" y2="123.1" stroke="#c8c8c8" stroke-width="1.1"/>
<line x1="561.6" y1="103.5" x2="734.8" y2="103.5" stroke="#c8c8c8" stroke-width="1.1"/>
<line x1="561.6" y1="83.8" x2="734.8" y2="83.8" stroke="#c8c8c8" stroke-width="1.1"/>
<line x1="561.6" y1="64.2" x2="734.8" y2="64.2" stroke="#c8c8c8" stroke-width="1.1"/>
<line x1="561.6" y1="44.6" x2="734.8" y2="44.6" stroke="#c8c8c8" stroke-width="1.1"/>
<line x1="569.5" y1="25" x2="569.5" y2="162.3" stroke="#c8c8c8" stroke-width="1.1"/>
<line x1="586" y1="25" x2="586" y2="162.3" stroke="#c8c8c8" stroke-width="1.1"/>
<line x1="602.6" y1="25" x2="602.6" y2="162.3" stroke="#c8c8c8" stroke-width="1.1"/>
<line x1="619.1" y1="25" x2="619.1" y2="162.3" stroke="#c8c8c8" stroke-width="1.1"/>
<line x1="635.7" y1="25" x2="635.7" y2="162.3" stroke="#c8c8c8" stroke-width="1.1"/>
<line x1="652.2" y1="25" x2="652.2" y2="162.3" stroke="#c8c8c8" stroke-width="1.1"/>
<line x1="668.8" y1="25" x2="668.8" y2="162.3" stroke="#c8c8c8" stroke-width="1.1"/>
<line x1="685.4" y1="25" x2="685.4" y2="162.3" stroke="#c8c8c8" stroke-width="1.1"/>
<line x1="701.9" y1="25" x2="701.9" y2="162.3" stroke="#c8c8c8" stroke-width="1.1"/>
<line x1="718.5" y1="25" x2="718.5" y2="162.3" stroke="#c8c8c8" stroke-width="1.1"/>
<line x1="561.6" y1="162.3" x2="565.1" y2="162.3" stroke="#000" stroke-width="1"/>
<line x1="734.8" y1="162.3" x2="731.3" y2="162.3" stroke="#999" stroke-width="1"/>
<line x1="561.6" y1="152.5" x2="563.6" y2="152.5" stroke="#000" stroke-width="1"/>
<line x1="734.8" y1="152.5" x2="732.8" y2="152.5" stroke="#999" stroke-width="1"/>
<line x1="561.6" y1="142.7" x2="565.1" y2="142.7" stroke="#000" stroke-width="1"/>
<line x1="734.8" y1="142.7" x2="731.3" y2="142.7" stroke="#999" stroke-width="1"/>
<line x1="561.6" y1="132.9" x2="563.6" y2="132.9" stroke="#000" stroke-width="1"/>
<line x1="734.8" y1="132.9" x2="732.8" y2="132.9" stroke="#999" stroke-width="1"/>
<line x1="561.6" y1="123.1" x2="565.1" y2="123.1" stroke="#000" stroke-width="1"/>
<line x1="734.8" y1="123.1" x2="731.3" y2="123.1" stroke="#999" stroke-width="1"/>
<line x1="561.6" y1="113.3" x2="563.6" y2="113.3" stroke="#000" stroke-width="1"/>
<line x1="734.8" y1="113.3" x2="732.8" y2="113.3" stroke="#999" stroke-width="1"/>
<line x1="561.6" y1="103.5" x2="565.1" y2="103.5" stroke="#000" stroke-width="1"/>
<line x1="734.8" y1="103.5" x2="731.3" y2="103.5" stroke="#999" stroke-width="1"/>
<line x1="561.6" y1="93.7" x2="563.6" y2="93.7" stroke="#000" stroke-width="1"/>
<line x1="734.8" y1="93.7" x2="732.8" y2="93.7" stroke="#999" stroke-width="1"/>
<line x1="561.6" y1="83.8" x2="565.1" y2="83.8" stroke="#000" stroke-width="1"/>
<line x1="734.8" y1="83.8" x2="731.3" y2="83.8" stroke="#999" stroke-width="1"/>
<line x1="561.6" y1="74" x2="563.6" y2="74" stroke="#000" stroke-width="1"/>
<line x1="734.8" y1="74" x2="732.8" y2="74" stroke="#999" stroke-width="1"/>
<line x1="561.6" y1="64.2" x2="565.1" y2="64.2" stroke="#000" stroke-width="1"/>
<line x1="734.8" y1="64.2" x2="731.3" y2="64.2" stroke="#999" stroke-width="1"/>
<line x1="561.6" y1="54.4" x2="563.6" y2="54.4" stroke="#000" stroke-width="1"/>
<line x1="734.8" y1="54.4" x2="732.8" y2="54.4" stroke="#999" stroke-width="1"/>
<line x1="561.6" y1="44.6" x2="565.1" y2="44.6" stroke="#000" stroke-width="1"/>
<line x1="734.8" y1="44.6" x2="731.3" y2="44.6" stroke="#999" stroke-width="1"/>
<line x1="561.6" y1="34.8" x2="563.6" y2="34.8" stroke="#000" stroke-width="1"/>
<line x1="734.8" y1="34.8" x2="732.8" y2="34.8" stroke="#999" stroke-width="1"/>
<line x1="561.6" y1="25" x2="565.1" y2="25" stroke="#000" stroke-width="1"/>
<line x1="734.8" y1="25" x2="731.3" y2="25" stroke="#999" stroke-width="1"/>
<line x1="569.5" y1="162.3" x2="569.5" y2="158.8" stroke="#000" stroke-width="1"/>
<line x1="586" y1="162.3" x2="586" y2="158.8" stroke="#000" stroke-width="1"/>
<line x1="602.6" y1="162.3" x2="602.6" y2="158.8" stroke="#000" stroke-width="1"/>
<line x1="619.1" y1="162.3" x2="619.1" y2="158.8" stroke="#000" stroke-width="1"/>
<line x1="635.7" y1="162.3" x2="635.7" y2="158.8" stroke="#000" stroke-width="1"/>
<line x1="652.2" y1="162.3" x2="652.2" y2="158.8" stroke="#000" stroke-width="1"/>
<line x1="668.8" y1="162.3" x2="668.8" y2="158.8" stroke="#000" stroke-width="1"/>
<line x1="685.4" y1="162.3" x2="685.4" y2="158.8" stroke="#000" stroke-width="1"/>
<line x1="701.9" y1="162.3" x2="701.9" y2="158.8" stroke="#000" stroke-width="1"/>
<line x1="718.5" y1="162.3" x2="718.5" y2="158.8" stroke="#000" stroke-width="1"/>
<line x1="735" y1="162.3" x2="735" y2="158.8" stroke="#000" stroke-width="1"/>
<rect x="561.6" y="25" width="173.2" height="137.3" fill="none" stroke="#7a7a7a" stroke-width="1.1"/>
<line x1="604" y1="161.7" x2="734" y2="161.7" stroke="#5a9ad5" stroke-width="0.9"/>
<path d="M564.5 162.9 L565.9 160.1 L567 160.2 L568.4 162.2 L569.3 158.2 L570.3 157.8 L571.4 158.6 L572.4 155.4 L573.5 156.2 L574.7 157.6 L576 154.4 L577.2 153.9 L578 154 L579.4 152.6 L580.8 148.9 L581.8 146.4 L583.1 144.8 L583.9 144.5 L584.8 144 L585.7 141.5 L586.6 140.9 L587.6 139.2 L589 140 L590 137.3 L591 136.4 L591.9 137.3 L593.4 132 L594.5 127.6 L595.4 126.6 L596.4 126 L597.3 119.1 L598.7 116 L599.7 112.5 L600.5 108.5 L601.6 103" fill="none" stroke="#ff0000" stroke-width="3.6" stroke-linejoin="round"/>
<path d="M562 72.9 L562.9 68.6 L563.7 66 L564.7 65.4 L565.7 63.9 L566.4 65 L567.5 65.6 L568.5 66.6 L569.5 66.8 L570.3 68.6 L571 68.8 L571.7 70.8 L572.6 74.4 L573.5 76 L574.6 78.2 L575.3 77.8 L576.1 78.8 L576.8 80.8 L577.8 82.7 L578.6 83.5 L579.6 83.5 L580.6 86.7 L581.6 87.5 L582.4 87.1 L583.4 88.7 L584.4 91.4 L585.2 91 L586.3 93.1 L587 92.5 L587.6 95.1 L588.6 94.5 L589.7 97.7 L590.6 97.5 L591.5 98.2 L592.1 101 L593 101.2 L594.1 102.5 L595.1 105 L595.8 105 L596.5 106.5 L597.4 108.3 L598.2 110.8 L599.3 118.7 L600 132 L602 150 L603.5 157 L606 161.4 L608 161.7" fill="none" stroke="#0000ff" stroke-width="3.2" stroke-linejoin="round"/>
<path d="M562 60 L562 78" stroke="#0000ff" stroke-width="2.5"/>
<path d="M562 55.8 L562.8 56.2 L563.6 54.3 L564.4 52.6 L565.3 51.8 L566.2 52.3 L567 51.7 L567.6 52.4 L568.3 53.8 L569.2 54.7 L569.9 55.1 L570.7 56.2 L571.5 56.4 L572.4 58.9 L573.1 59 L574.1 59.2 L574.8 60.3 L575.5 63.2 L576.4 62.9 L577.3 63.8 L578.3 65.2 L579 66.9 L580 66.9 L580.8 68 L581.5 69.8 L582.3 69.4 L583.1 70.5 L583.7 72.1 L584.7 70 L585.3 72.6 L585.9 71.9 L586.9 72 L587.8 73.7 L588.5 72.5 L589.2 73.1 L590.1 76.1 L591 75.4 L591.8 77.6 L592.8 79 L593.6 80.3 L594.3 80.8 L595 82.9 L595.7 84.7 L596.4 84.4 L597.1 87.7 L597.7 88.1 L598.4 90.3 L599.2 91.7 L600 92.6 L600.7 95.9 L601.6 98 L602.2 99.9 L602.2 108.4 L601.6 108.9 L600.7 109.3 L600 109.3 L599.2 106.9 L598.4 106.2 L597.7 106.9 L597.1 104.9 L596.4 103.2 L595.7 102 L595 102.7 L594.3 100.1 L593.6 99 L592.8 97.9 L591.8 97.7 L591 97.5 L590.1 94 L589.2 95.3 L588.5 93.7 L587.8 93 L586.9 90.3 L585.9 91.3 L585.3 88.7 L584.7 88 L583.7 88.5 L583.1 87.1 L582.3 85 L581.5 84.2 L580.8 83.9 L580 83.8 L579 83.8 L578.3 82.5 L577.3 80.7 L576.4 78.9 L575.5 77.6 L574.8 74.9 L574.1 72.6 L573.1 72.6 L572.4 70.8 L571.5 68.6 L570.7 65.4 L569.9 64.2 L569.2 64.1 L568.3 61.6 L567.6 60.1 L567 61.3 L566.2 59.6 L565.3 61.6 L564.4 62.3 L563.6 64.1 L562.8 67.3 L562 70.1Z" fill="#1f6db5" stroke="#1f6db5" stroke-width="0.8" stroke-linejoin="round"/>
<path d="M602.5 105C602.8 107.5 603.7 115 604.2 120C604.7 125 605 130 605.5 135C606 140 606.4 146.3 606.9 150C607.4 153.7 608.1 155.2 608.8 157C609.5 158.8 610.1 159.7 611 160.5C611.9 161.3 613.5 161.4 614 161.6" fill="none" stroke="#1f6db5" stroke-width="3.2" stroke-linejoin="round"/>
<path d="M601 96.6 L601.5 93 L601.9 72.6 L602.4 96.5 L602.8 67.1 L603.3 92.2 L603.7 63.5 L604.1 92.2 L604.6 61 L604.9 99.5 L605.4 55.4 L605.7 97.5 L606.1 55.4 L606.7 94.7 L607.2 50.3 L607.6 94.1 L608 52.7 L608.4 94.3 L608.9 55.4 L609.5 93.4 L610 46.9 L610.5 96 L611.1 46.5 L611.6 95.7 L611.9 44.6 L612.3 98.6 L612.9 45.2 L613.4 96.2 L613.7 43.5 L614.2 95 L614.7 44.2 L615.1 101.7 L615.6 42 L616.2 99.1 L616.7 39.5 L617.2 98.7 L617.7 37.5 L618.3 104.4 L618.7 40.1 L619.1 101 L619.6 37.4 L620.1 100.9 L620.6 40.1 L621 102.5 L621.3 56.7 L621.9 100.9 L622.4 57.5 L622.8 109.9 L623.3 58.7 L623.7 106.9 L624.3 55.5" fill="none" stroke="#ff0000" stroke-width="1.5" stroke-linejoin="round"/>
<path d="M624.3 55.5 L625.3 94.5 L626.5 67.3 L627.3 119.1 L628.4 72 L629.4 114.4 L630.4 76.5 L631.2 100.1 L632.7 85 L634.2 112.8 L635.7 84.4 L636.8 114.8 L638.4 80.3 L639.5 106.4 L640.6 84 L641.4 114.7 L642.5 92.7 L643.5 95.7 L644.7 82.5 L645.8 112.4 L647.3 90.9 L648.6 102.2 L650.1 88.9 L651.5 106.5 L652.9 81.7 L654.3 106.5 L655.3 88.9 L656.9 113.2 L658 76.7 L659.1 108.3 L660.7 92.9" fill="none" stroke="#ff0000" stroke-width="2.1" stroke-linejoin="round"/>
<path d="M660 91.5C660.2 90.8 661 83.2 661.5 87.2C662 91.2 662.4 115.1 663 115.5C663.6 115.9 664.4 88.3 665 89.4C665.6 90.5 666 119.1 666.5 122C667 124.9 667.4 107.9 668 106.8C668.6 105.7 669.2 112.3 670 115.5C670.8 118.7 671.9 123.5 673 126C674.1 128.6 675.5 131.5 676.5 130.8C677.5 130.1 678 125.3 678.8 122C679.5 118.7 680.3 110.6 681 111.1C681.7 111.6 682.3 120.6 682.8 125C683.3 129.4 683.5 138.5 684 137.3C684.5 136.1 685.1 124.9 685.8 118C686.5 111.1 687.4 95.9 688 95.9C688.6 95.9 689.2 111.5 689.7 118C690.2 124.5 690.5 134.8 691 135.1C691.5 135.4 692.2 124.9 692.8 120C693.4 115.1 693.8 107 694.5 105.7C695.2 104.5 696.2 111.8 697 112.5C697.8 113.2 698.3 107.3 699 110C699.7 112.7 700.3 121.5 701 128.6C701.7 135.7 702.4 149.6 703 152.5C703.6 155.4 704.2 148.9 704.8 146C705.4 143.1 705.9 134.9 706.5 135.1C707.1 135.3 707.7 143.7 708.3 147C708.9 150.3 709.2 154.1 710 154.7C710.8 155.3 712 152.3 713 150.5C714 148.7 715.1 144.1 716 143.8C716.9 143.6 717.5 147.2 718.2 149C718.9 150.8 719.4 153.9 720 154.7C720.6 155.5 721.3 152.9 722 153.6C722.7 154.3 723.2 157.7 724 159C724.8 160.3 725.2 160.9 727 161.3C728.8 161.7 733.7 161.6 735 161.6" fill="none" stroke="#ff0000" stroke-width="2.6" stroke-linejoin="round"/>
<rect x="660.4" y="25" width="72.6" height="58" fill="#fff" stroke="#000" stroke-width="0.8"/>
<rect x="732.2" y="27.5" width="2.6" height="57.5" fill="#000"/>
<rect x="662" y="82.3" width="72.8" height="2.6" fill="#000"/>
<text x="696.7" y="38.4" font-size="11.2" text-anchor="middle" fill="#000" font-family="Liberation Sans" font-weight="bold">T = 77K</text>
<text x="696.6" y="51.2" font-size="11.3" text-anchor="middle" fill="#000" font-family="Liberation Sans" font-weight="bold">Bias Applied</text>
<line x1="667" y1="62.6" x2="686" y2="62.6" stroke="#0000ff" stroke-width="2.2"/>
<line x1="667" y1="76.8" x2="686" y2="76.8" stroke="#ff0000" stroke-width="2.2"/>
<text x="688" y="66.6" font-size="11.3" text-anchor="start" fill="#000" font-family="Liberation Sans" font-weight="bold">000mV</text>
<text x="688" y="80.8" font-size="11.3" text-anchor="start" fill="#000" font-family="Liberation Sans" font-weight="bold">200mV</text>
<text transform="translate(557.2 146.1) scale(1.15 1)" font-size="11.3" text-anchor="end" fill="#000" font-family="Liberation Sans" font-weight="bold">10</text>
<text transform="translate(557.2 126.5) scale(1.15 1)" font-size="11.3" text-anchor="end" fill="#000" font-family="Liberation Sans" font-weight="bold">20</text>
<text transform="translate(557.2 106.9) scale(1.15 1)" font-size="11.3" text-anchor="end" fill="#000" font-family="Liberation Sans" font-weight="bold">30</text>
<text transform="translate(557.2 87.2) scale(1.15 1)" font-size="11.3" text-anchor="end" fill="#000" font-family="Liberation Sans" font-weight="bold">40</text>
<text transform="translate(557.2 67.6) scale(1.15 1)" font-size="11.3" text-anchor="end" fill="#000" font-family="Liberation Sans" font-weight="bold">50</text>
<text transform="translate(557.2 48) scale(1.15 1)" font-size="11.3" text-anchor="end" fill="#000" font-family="Liberation Sans" font-weight="bold">60</text>
<text transform="translate(557.2 28.4) scale(1.15 1)" font-size="11.3" text-anchor="end" fill="#000" font-family="Liberation Sans" font-weight="bold">70</text>
<text x="569.5" y="176.6" font-size="11.5" text-anchor="middle" fill="#000" font-family="Liberation Sans" font-weight="bold">3</text>
<text x="586" y="176.6" font-size="11.5" text-anchor="middle" fill="#000" font-family="Liberation Sans" font-weight="bold">4</text>
<text x="602.6" y="176.6" font-size="11.5" text-anchor="middle" fill="#000" font-family="Liberation Sans" font-weight="bold">5</text>
<text x="619.1" y="176.6" font-size="11.5" text-anchor="middle" fill="#000" font-family="Liberation Sans" font-weight="bold">6</text>
<text x="635.7" y="176.6" font-size="11.5" text-anchor="middle" fill="#000" font-family="Liberation Sans" font-weight="bold">7</text>
<text x="652.2" y="176.6" font-size="11.5" text-anchor="middle" fill="#000" font-family="Liberation Sans" font-weight="bold">8</text>
<text x="668.8" y="176.6" font-size="11.5" text-anchor="middle" fill="#000" font-family="Liberation Sans" font-weight="bold">9</text>
<text x="685.4" y="176.6" font-size="11.5" text-anchor="middle" fill="#000" font-family="Liberation Sans" font-weight="bold">10</text>
<text x="701.9" y="176.6" font-size="11.5" text-anchor="middle" fill="#000" font-family="Liberation Sans" font-weight="bold">11</text>
<text x="718.5" y="176.6" font-size="11.5" text-anchor="middle" fill="#000" font-family="Liberation Sans" font-weight="bold">12</text>
<text x="735" y="176.6" font-size="11.5" text-anchor="middle" fill="#000" font-family="Liberation Sans" font-weight="bold">13</text>
<text x="592.2" y="189.4" font-size="13" font-family="Liberation Sans" font-weight="bold" letter-spacing="0.8">Wavelength <tspan font-size="10.5" letter-spacing="0">(μm)</tspan></text>
<text transform="translate(536.9 168.3) rotate(-90) scale(1 1.1)" font-size="13.3" fill="#000" font-family="Liberation Sans" font-weight="bold">Quantum Efficiency (%)</text>
<text x="621.6" y="137.3" font-size="11.5" text-anchor="middle" fill="#1f6db5" font-family="Liberation Sans" font-weight="bold">150K</text>
<text transform="translate(510.4 30.2) scale(1.07 1)" font-size="26" text-anchor="middle" fill="#f01010" font-family="Liberation Serif" font-weight="bold">(c)</text>
<line x1="563.2" y1="332.5" x2="730.4" y2="332.5" stroke="#d6d6d6" stroke-width="1" stroke-dasharray="4.5 2.2"/>
<line x1="563.2" y1="327.3" x2="730.4" y2="327.3" stroke="#d6d6d6" stroke-width="1" stroke-dasharray="4.5 2.2"/>
<line x1="563.2" y1="324.3" x2="730.4" y2="324.3" stroke="#d6d6d6" stroke-width="1" stroke-dasharray="4.5 2.2"/>
<line x1="563.2" y1="322.2" x2="730.4" y2="322.2" stroke="#d6d6d6" stroke-width="1" stroke-dasharray="4.5 2.2"/>
<line x1="563.2" y1="315.4" x2="730.4" y2="315.4" stroke="#d6d6d6" stroke-width="1" stroke-dasharray="4.5 2.2"/>
<line x1="563.2" y1="310.2" x2="730.4" y2="310.2" stroke="#d6d6d6" stroke-width="1" stroke-dasharray="4.5 2.2"/>
<line x1="563.2" y1="307.2" x2="730.4" y2="307.2" stroke="#d6d6d6" stroke-width="1" stroke-dasharray="4.5 2.2"/>
<line x1="563.2" y1="305.1" x2="730.4" y2="305.1" stroke="#d6d6d6" stroke-width="1" stroke-dasharray="4.5 2.2"/>
<line x1="563.2" y1="298.3" x2="730.4" y2="298.3" stroke="#d6d6d6" stroke-width="1" stroke-dasharray="4.5 2.2"/>
<line x1="563.2" y1="293.1" x2="730.4" y2="293.1" stroke="#d6d6d6" stroke-width="1" stroke-dasharray="4.5 2.2"/>
<line x1="563.2" y1="290.1" x2="730.4" y2="290.1" stroke="#d6d6d6" stroke-width="1" stroke-dasharray="4.5 2.2"/>
<line x1="563.2" y1="288" x2="730.4" y2="288" stroke="#d6d6d6" stroke-width="1" stroke-dasharray="4.5 2.2"/>
<line x1="563.2" y1="281.2" x2="730.4" y2="281.2" stroke="#d6d6d6" stroke-width="1" stroke-dasharray="4.5 2.2"/>
<line x1="563.2" y1="276" x2="730.4" y2="276" stroke="#d6d6d6" stroke-width="1" stroke-dasharray="4.5 2.2"/>
<line x1="563.2" y1="273" x2="730.4" y2="273" stroke="#d6d6d6" stroke-width="1" stroke-dasharray="4.5 2.2"/>
<line x1="563.2" y1="270.9" x2="730.4" y2="270.9" stroke="#d6d6d6" stroke-width="1" stroke-dasharray="4.5 2.2"/>
<line x1="563.2" y1="264.1" x2="730.4" y2="264.1" stroke="#d6d6d6" stroke-width="1" stroke-dasharray="4.5 2.2"/>
<line x1="563.2" y1="258.9" x2="730.4" y2="258.9" stroke="#d6d6d6" stroke-width="1" stroke-dasharray="4.5 2.2"/>
<line x1="563.2" y1="255.9" x2="730.4" y2="255.9" stroke="#d6d6d6" stroke-width="1" stroke-dasharray="4.5 2.2"/>
<line x1="563.2" y1="253.8" x2="730.4" y2="253.8" stroke="#d6d6d6" stroke-width="1" stroke-dasharray="4.5 2.2"/>
<line x1="563.2" y1="247" x2="730.4" y2="247" stroke="#d6d6d6" stroke-width="1" stroke-dasharray="4.5 2.2"/>
<line x1="563.2" y1="241.8" x2="730.4" y2="241.8" stroke="#d6d6d6" stroke-width="1" stroke-dasharray="4.5 2.2"/>
<line x1="563.2" y1="238.8" x2="730.4" y2="238.8" stroke="#d6d6d6" stroke-width="1" stroke-dasharray="4.5 2.2"/>
<line x1="563.2" y1="236.7" x2="730.4" y2="236.7" stroke="#d6d6d6" stroke-width="1" stroke-dasharray="4.5 2.2"/>
<line x1="563.2" y1="229.9" x2="730.4" y2="229.9" stroke="#d6d6d6" stroke-width="1" stroke-dasharray="4.5 2.2"/>
<line x1="563.2" y1="224.7" x2="730.4" y2="224.7" stroke="#d6d6d6" stroke-width="1" stroke-dasharray="4.5 2.2"/>
<line x1="563.2" y1="221.7" x2="730.4" y2="221.7" stroke="#d6d6d6" stroke-width="1" stroke-dasharray="4.5 2.2"/>
<line x1="563.2" y1="219.6" x2="730.4" y2="219.6" stroke="#d6d6d6" stroke-width="1" stroke-dasharray="4.5 2.2"/>
<line x1="563.2" y1="212.8" x2="730.4" y2="212.8" stroke="#d6d6d6" stroke-width="1" stroke-dasharray="4.5 2.2"/>
<line x1="563.2" y1="207.6" x2="730.4" y2="207.6" stroke="#d6d6d6" stroke-width="1" stroke-dasharray="4.5 2.2"/>
<line x1="563.2" y1="204.6" x2="730.4" y2="204.6" stroke="#d6d6d6" stroke-width="1" stroke-dasharray="4.5 2.2"/>
<line x1="563.2" y1="202.5" x2="730.4" y2="202.5" stroke="#d6d6d6" stroke-width="1" stroke-dasharray="4.5 2.2"/>
<line x1="584.3" y1="200" x2="584.3" y2="337.5" stroke="#cfcfcf" stroke-width="1" stroke-dasharray="3 9"/>
<line x1="626.1" y1="200" x2="626.1" y2="337.5" stroke="#cfcfcf" stroke-width="1" stroke-dasharray="3 9"/>
<line x1="667.9" y1="200" x2="667.9" y2="337.5" stroke="#cfcfcf" stroke-width="1" stroke-dasharray="3 9"/>
<line x1="709.7" y1="200" x2="709.7" y2="337.5" stroke="#cfcfcf" stroke-width="1" stroke-dasharray="3 9"/>
<line x1="563.2" y1="320.5" x2="730.4" y2="320.5" stroke="#b4b4b4" stroke-width="1.1"/>
<line x1="563.2" y1="303.4" x2="730.4" y2="303.4" stroke="#b4b4b4" stroke-width="1.1"/>
<line x1="563.2" y1="286.3" x2="730.4" y2="286.3" stroke="#b4b4b4" stroke-width="1.1"/>
<line x1="563.2" y1="269.2" x2="730.4" y2="269.2" stroke="#b4b4b4" stroke-width="1.1"/>
<line x1="563.2" y1="252.1" x2="730.4" y2="252.1" stroke="#b4b4b4" stroke-width="1.1"/>
<line x1="563.2" y1="235" x2="730.4" y2="235" stroke="#b4b4b4" stroke-width="1.1"/>
<line x1="563.2" y1="217.9" x2="730.4" y2="217.9" stroke="#b4b4b4" stroke-width="1.1"/>
<line x1="605.2" y1="200" x2="605.2" y2="337.5" stroke="#b4b4b4" stroke-width="1.1"/>
<line x1="647" y1="200" x2="647" y2="337.5" stroke="#b4b4b4" stroke-width="1.1"/>
<line x1="688.8" y1="200" x2="688.8" y2="337.5" stroke="#b4b4b4" stroke-width="1.1"/>
<line x1="563.2" y1="337.6" x2="566.7" y2="337.6" stroke="#555" stroke-width="1"/>
<line x1="563.2" y1="332.5" x2="565.2" y2="332.5" stroke="#555" stroke-width="1"/>
<line x1="563.2" y1="329.4" x2="565.2" y2="329.4" stroke="#555" stroke-width="1"/>
<line x1="563.2" y1="327.3" x2="565.2" y2="327.3" stroke="#555" stroke-width="1"/>
<line x1="563.2" y1="325.6" x2="565.2" y2="325.6" stroke="#555" stroke-width="1"/>
<line x1="563.2" y1="324.3" x2="565.2" y2="324.3" stroke="#555" stroke-width="1"/>
<line x1="563.2" y1="323.1" x2="565.2" y2="323.1" stroke="#555" stroke-width="1"/>
<line x1="563.2" y1="322.2" x2="565.2" y2="322.2" stroke="#555" stroke-width="1"/>
<line x1="563.2" y1="321.3" x2="565.2" y2="321.3" stroke="#555" stroke-width="1"/>
<line x1="563.2" y1="320.5" x2="566.7" y2="320.5" stroke="#555" stroke-width="1"/>
<line x1="563.2" y1="315.4" x2="565.2" y2="315.4" stroke="#555" stroke-width="1"/>
<line x1="563.2" y1="312.3" x2="565.2" y2="312.3" stroke="#555" stroke-width="1"/>
<line x1="563.2" y1="310.2" x2="565.2" y2="310.2" stroke="#555" stroke-width="1"/>
<line x1="563.2" y1="308.5" x2="565.2" y2="308.5" stroke="#555" stroke-width="1"/>
<line x1="563.2" y1="307.2" x2="565.2" y2="307.2" stroke="#555" stroke-width="1"/>
<line x1="563.2" y1="306" x2="565.2" y2="306" stroke="#555" stroke-width="1"/>
<line x1="563.2" y1="305.1" x2="565.2" y2="305.1" stroke="#555" stroke-width="1"/>
<line x1="563.2" y1="304.2" x2="565.2" y2="304.2" stroke="#555" stroke-width="1"/>
<line x1="563.2" y1="303.4" x2="566.7" y2="303.4" stroke="#555" stroke-width="1"/>
<line x1="563.2" y1="298.3" x2="565.2" y2="298.3" stroke="#555" stroke-width="1"/>
<line x1="563.2" y1="295.2" x2="565.2" y2="295.2" stroke="#555" stroke-width="1"/>
<line x1="563.2" y1="293.1" x2="565.2" y2="293.1" stroke="#555" stroke-width="1"/>
<line x1="563.2" y1="291.4" x2="565.2" y2="291.4" stroke="#555" stroke-width="1"/>
<line x1="563.2" y1="290.1" x2="565.2" y2="290.1" stroke="#555" stroke-width="1"/>
<line x1="563.2" y1="288.9" x2="565.2" y2="288.9" stroke="#555" stroke-width="1"/>
<line x1="563.2" y1="288" x2="565.2" y2="288" stroke="#555" stroke-width="1"/>
<line x1="563.2" y1="287.1" x2="565.2" y2="287.1" stroke="#555" stroke-width="1"/>
<line x1="563.2" y1="286.3" x2="566.7" y2="286.3" stroke="#555" stroke-width="1"/>
<line x1="563.2" y1="281.2" x2="565.2" y2="281.2" stroke="#555" stroke-width="1"/>
<line x1="563.2" y1="278.1" x2="565.2" y2="278.1" stroke="#555" stroke-width="1"/>
<line x1="563.2" y1="276" x2="565.2" y2="276" stroke="#555" stroke-width="1"/>
<line x1="563.2" y1="274.3" x2="565.2" y2="274.3" stroke="#555" stroke-width="1"/>
<line x1="563.2" y1="273" x2="565.2" y2="273" stroke="#555" stroke-width="1"/>
<line x1="563.2" y1="271.8" x2="565.2" y2="271.8" stroke="#555" stroke-width="1"/>
<line x1="563.2" y1="270.9" x2="565.2" y2="270.9" stroke="#555" stroke-width="1"/>
<line x1="563.2" y1="270" x2="565.2" y2="270" stroke="#555" stroke-width="1"/>
<line x1="563.2" y1="269.2" x2="566.7" y2="269.2" stroke="#555" stroke-width="1"/>
<line x1="563.2" y1="264.1" x2="565.2" y2="264.1" stroke="#555" stroke-width="1"/>
<line x1="563.2" y1="261" x2="565.2" y2="261" stroke="#555" stroke-width="1"/>
<line x1="563.2" y1="258.9" x2="565.2" y2="258.9" stroke="#555" stroke-width="1"/>
<line x1="563.2" y1="257.2" x2="565.2" y2="257.2" stroke="#555" stroke-width="1"/>
<line x1="563.2" y1="255.9" x2="565.2" y2="255.9" stroke="#555" stroke-width="1"/>
<line x1="563.2" y1="254.7" x2="565.2" y2="254.7" stroke="#555" stroke-width="1"/>
<line x1="563.2" y1="253.8" x2="565.2" y2="253.8" stroke="#555" stroke-width="1"/>
<line x1="563.2" y1="252.9" x2="565.2" y2="252.9" stroke="#555" stroke-width="1"/>
<line x1="563.2" y1="252.1" x2="566.7" y2="252.1" stroke="#555" stroke-width="1"/>
<line x1="563.2" y1="247" x2="565.2" y2="247" stroke="#555" stroke-width="1"/>
<line x1="563.2" y1="243.9" x2="565.2" y2="243.9" stroke="#555" stroke-width="1"/>
<line x1="563.2" y1="241.8" x2="565.2" y2="241.8" stroke="#555" stroke-width="1"/>
<line x1="563.2" y1="240.1" x2="565.2" y2="240.1" stroke="#555" stroke-width="1"/>
<line x1="563.2" y1="238.8" x2="565.2" y2="238.8" stroke="#555" stroke-width="1"/>
<line x1="563.2" y1="237.6" x2="565.2" y2="237.6" stroke="#555" stroke-width="1"/>
<line x1="563.2" y1="236.7" x2="565.2" y2="236.7" stroke="#555" stroke-width="1"/>
<line x1="563.2" y1="235.8" x2="565.2" y2="235.8" stroke="#555" stroke-width="1"/>
<line x1="563.2" y1="235" x2="566.7" y2="235" stroke="#555" stroke-width="1"/>
<line x1="563.2" y1="229.9" x2="565.2" y2="229.9" stroke="#555" stroke-width="1"/>
<line x1="563.2" y1="226.8" x2="565.2" y2="226.8" stroke="#555" stroke-width="1"/>
<line x1="563.2" y1="224.7" x2="565.2" y2="224.7" stroke="#555" stroke-width="1"/>
<line x1="563.2" y1="223" x2="565.2" y2="223" stroke="#555" stroke-width="1"/>
<line x1="563.2" y1="221.7" x2="565.2" y2="221.7" stroke="#555" stroke-width="1"/>
<line x1="563.2" y1="220.5" x2="565.2" y2="220.5" stroke="#555" stroke-width="1"/>
<line x1="563.2" y1="219.6" x2="565.2" y2="219.6" stroke="#555" stroke-width="1"/>
<line x1="563.2" y1="218.7" x2="565.2" y2="218.7" stroke="#555" stroke-width="1"/>
<line x1="563.2" y1="217.9" x2="566.7" y2="217.9" stroke="#555" stroke-width="1"/>
<line x1="563.2" y1="212.8" x2="565.2" y2="212.8" stroke="#555" stroke-width="1"/>
<line x1="563.2" y1="209.7" x2="565.2" y2="209.7" stroke="#555" stroke-width="1"/>
<line x1="563.2" y1="207.6" x2="565.2" y2="207.6" stroke="#555" stroke-width="1"/>
<line x1="563.2" y1="205.9" x2="565.2" y2="205.9" stroke="#555" stroke-width="1"/>
<line x1="563.2" y1="204.6" x2="565.2" y2="204.6" stroke="#555" stroke-width="1"/>
<line x1="563.2" y1="203.4" x2="565.2" y2="203.4" stroke="#555" stroke-width="1"/>
<line x1="563.2" y1="202.5" x2="565.2" y2="202.5" stroke="#555" stroke-width="1"/>
<line x1="563.2" y1="201.6" x2="565.2" y2="201.6" stroke="#555" stroke-width="1"/>
<line x1="563.2" y1="200.8" x2="566.7" y2="200.8" stroke="#555" stroke-width="1"/>
<rect x="563.2" y="200" width="167.2" height="137.5" fill="none" stroke="#9a9a9a" stroke-width="1.2"/>
<line x1="563.2" y1="200" x2="563.2" y2="337.5" stroke="#555" stroke-width="1.2"/>
<path d="M563.5 236 L564.2 234.7 L565 233.3 L565.7 232 L566.5 230.7 L567.2 229.3 L568 228 L569.2 226.9 L570.4 225.8 L571.6 224.7 L573 224.5 L574.5 224.9 L575.2 226 L575.6 227.6 L575.9 229.1 L576.2 230.6 L576.6 232.2 L576.9 233.7 L577.8 235 L578.9 236.2 L580 237.4 L581.3 238.3 L582.6 239.3 L583.2 238.6 L583.5 237.1 L583.7 235.6 L584 234.1 L584.3 232.7 L584.5 231.2 L584.8 229.7 L585.1 228.2 L585.3 226.7 L585.5 225.2 L585.8 223.7 L586 222.1 L586.2 220.6 L586.5 219.1 L586.7 217.6 L586.9 216.1 L587.1 216.6 L587.4 218.1 L587.6 219.7 L587.8 221.2 L588 222.7 L588.2 224.2 L588.4 225.7 L588.6 227.3 L588.9 228.8 L589.2 230.3 L589.7 231.7 L590.2 233.2 L590.7 234.6 L591.2 236.1 L591.7 237.5 L592.4 238.8 L593.7 239.8 L595 240.5 L596.1 239.7 L597.2 238.7 L598.5 238 L600 238 L601.5 238 L603 237.5 L604.5 236.7 L605.9 235.9 L606.4 234.5 L606.8 233 L607.2 231.5 L607.6 230 L608 228.5 L608.5 227 L608.9 225.5 L609.4 224 L610 222.5 L610.6 221 L611.1 220.5 L611.5 222 L611.9 223.5 L612.2 225 L612.6 226.5 L613 228 L613.9 229.2 L614.8 230.4 L615.7 231.6 L616.6 232.9 L617.4 234.1 L618.1 234.5 L618.6 233 L619 231.5 L619.4 230 L619.9 228.5 L620.2 229 L620.6 230.5 L621 232 L621.4 233.5 L621.7 235 L622.4 236.4 L623.6 237.6 L624.8 238.8 L626 240 L626.9 241.3 L627.7 242.6 L629 243.3 L630.5 243.8 L631.6 243.2 L632.5 242 L633.4 240.8 L634.3 239.6 L635.2 238.4 L636.1 237.2 L637 236.2 L637.4 237.5 L637.7 239 L638.5 239.8 L640 239.3 L641.2 238.5 L641.8 237.1 L642.4 235.7 L643 234.3 L643.6 232.9 L644.2 231.5 L644.7 230.1 L645.2 228.7 L645.8 227.3 L646.3 225.9 L646.8 224.5 L647.4 223 L647.9 221.5 L648.4 220 L649 218.5 L649.5 217.3 L649.9 218.5 L650.4 220 L650.8 221.5 L651.2 223 L651.6 224.5 L651.8 226 L652 227.5 L652.2 229 L652.4 230.5 L652.6 232 L652.8 233.5 L653.1 234.9 L654.5 235.5 L655.9 235.8 L656.6 234.5 L657.2 233 L657.8 231.5 L658.5 230 L659.2 228.5 L659.9 229 L660.4 230.5 L661 232 L661.4 233.5 L661.7 235 L662.1 236.5 L662.5 238 L662.6 239.5 L662.7 241 L662.8 242.5 L662.9 244 L663.1 245.5 L663.3 247 L663.5 248.5 L663.7 250 L663.9 251.5 L664 252" fill="none" stroke="#000" stroke-width="3.8" stroke-linejoin="round" stroke-linecap="round"/>
<path d="M564 223 L565.5 239.2 L567 223.6 L568.1 240.1 L569.3 225.6 L570.7 239.6 L572.4 228 L573.8 237.3 L574.9 226.5 L576.2 235.6 L577.4 228.2 L578.8 232.5 L580.4 229.3 L581.8 233.9 L583.1 229.4 L584.1 234.9 L585.9 228.9 L587.3 233.5 L589 229.7 L590.2 235 L591.5 230.6 L593.3 232.6 L595 228.6 L596 233.2 L597.7 230.1 L599.2 236 L600.5 231.5 L602.2 232.6 L603.9 227.4 L605 235.4 L606.4 228.1 L608.2 232.2 L609.7 227 L611.1 232.1 L612.1 226.1 L613.3 230.6 L614.8 223.2 L615.9 234 L617.4 223.8 L618.5 235.3 L619.9 222.4 L621.2 235.6 L622.7 220 L624 235.7 L625.7 222.6 L627.4 237.1 L628.6 221 L630.4 237.1 L631.6 220.1 L633 236.4 L634.4 221 L635.9 234.5 L637.1 220.1 L638.4 235.8 L639.9 220.8 L641.5 234.5 L643 221.1 L644.7 237.2 L646.4 221.6 L647.6 236.2 L648.8 224.7 L650.2 239.2 L651.4 223.5 L652.9 235 L654 225 L655.2 234.1 L656.3 224.6 L657.4 236.4 L659.1 228.9 L660.7 234" fill="none" stroke="#858585" stroke-width="2.4" stroke-linejoin="round"/>
<path d="M563.5 239.6 L563.7 238.1 L563.8 236.6 L564 235.1 L564.2 233.6 L564.3 232 L564.5 230.5 L564.7 229 L564.8 227.5 L565 226 L565.6 224.5 L566.2 223 L566.8 221.5 L567.2 222 L567.6 223.5 L567.9 225 L568.2 226.5 L568.6 228 L568.9 229.5 L569.1 231 L569.3 232.6 L569.5 234.1 L569.7 235.6 L569.9 237.2 L570.1 238.7 L570.3 240.3 L570.5 241.5 L570.8 240.3 L571.1 238.8 L571.4 237.3 L571.7 235.8 L572.1 234.3 L572.4 232.8 L572.7 231.3 L573.1 229.9 L574.5 229.4 L576 229 L577.3 229.2 L578.1 230.6 L579.1 231.9 L580.5 232.5 L582 233 L583.5 233 L585 233 L586.5 233.3 L588 233.6 L589.5 233.9 L591 233.8 L592.5 233.5 L594 233.2 L595.5 233.2 L597 233.8 L598.3 234.7 L599.1 236 L600 237.1 L600.5 235.9 L600.9 234.4 L601.4 232.9 L601.8 231.4 L602.6 231.8 L603.5 233 L604.4 234.3 L605.2 234.7 L605.9 233.3 L606.5 231.9 L607.1 230.6 L607.8 229.2 L609 228.3 L610.5 227.8 L611.6 226.7 L612.5 225.4 L613.4 224.2 L614.2 222.8 L614.7 221.4 L615.3 219.9 L615.9 218.5 L616.4 217 L617 215.9 L617.6 217 L618.3 218.4 L618.9 219.8 L619.6 221.3 L620.1 222.7 L620.4 224.3 L620.7 225.8 L621 227.3 L621.2 228.9 L621.5 230.4 L621.8 232 L622.1 232.5 L622.3 231 L622.5 229.5 L622.8 228 L623 226.5 L623.2 225 L623.5 223.5 L623.7 222 L623.9 220.5 L624.2 221 L624.5 222.5 L624.8 224.1 L625.1 225.6 L625.4 227.1 L625.7 228.6 L626 230.1 L626.3 231.7 L626.6 233.2 L626.9 234.7 L627.2 234.2 L627.6 232.7 L628 231.2 L628.4 229.7 L628.7 228.3 L629.1 226.8 L629.5 225.3 L629.9 223.8 L630.7 222.5 L631.9 221.2 L632.9 220.2 L633.4 221.5 L633.9 222.9 L634.3 224.4 L634.8 225.9 L635.2 227.3 L635.7 228.8 L636.2 229.3 L636.7 227.8 L637.2 226.4 L637.7 224.9 L638.2 223.4 L638.7 222 L639.1 221.5 L639.3 223 L639.6 224.5 L639.8 226 L640.1 227.5 L640.3 229 L640.6 230.5 L640.8 232 L641.1 233.5 L641.6 235 L642 236.5 L642.4 238 L642.9 239.5 L643.9 239.3 L645.1 238.1 L646.1 236.9 L646.3 235.4 L646.5 233.9 L646.7 232.3 L646.9 230.8 L647.1 229.3 L647.3 227.8 L647.5 226.3 L647.7 224.7 L647.9 223.2 L648.5 221.9 L649.9 221.2 L650.1 222.5 L650.2 224 L650.3 225.5 L650.5 227.1 L650.6 228.6 L650.7 230.1 L650.8 231.6 L650.9 233.1 L651 234.6 L651.2 236.2 L651.3 237.7 L651.4 239.2 L651.6 240.7 L652.8 241.8 L654 242.7 L654.8 241.5 L655.5 240.1 L656.2 238.8 L657 237.6 L658.3 238.3 L659.6 239.3 L660.4 240.6 L661.1 242 L661.8 243.5 L662 244C662.5 246.6 663.6 252.3 664.7 259.4C665.8 266.5 667.4 279.5 668.4 286.4C669.4 293.3 670 297.8 670.8 301C671.6 304.2 672.3 305.9 673.3 305.5C674.3 305.1 675.6 301 677 298.6C678.4 296.2 679.7 292.9 681.9 291C684.1 289.1 686.7 287.4 690.4 287.2C694.1 286.9 699.2 288.4 703.9 289.5C708.6 290.6 714.2 292.6 718.6 293.8C723 295.1 728.3 296.5 730.2 297" fill="none" stroke="#808080" stroke-width="4.3" stroke-linejoin="round" stroke-linecap="round"/>
<path d="M696 287.2C697.3 287.4 700.1 287.7 703.9 288.6C707.7 289.5 714.2 291.4 718.6 292.6C723 293.8 728.3 295.4 730.2 296" fill="none" stroke="#000" stroke-width="1.2"/>
<line x1="578" y1="325.6" x2="673" y2="325.6" stroke="#0a0aff" stroke-width="4.2"/>
<polygon points="563.8,325.6 584.8,318.6 584.8,332.6" fill="#0a0aff"/>
<line x1="672.7" y1="325.6" x2="715" y2="325.6" stroke="#ff0a0a" stroke-width="4.2"/>
<polygon points="731.2,325.6 709.2,318.8 709.2,332.4" fill="#ff0a0a"/>
<text x="626.5" y="315.8" font-size="14" text-anchor="middle" fill="#1515e6" font-family="Liberation Sans" font-weight="bold">MWIR</text>
<text x="699.3" y="315.4" font-size="14" text-anchor="middle" fill="#e61515" font-family="Liberation Sans" font-weight="bold">LWIR</text>
<rect x="677.1" y="212.2" width="44" height="42.6" fill="#fff" stroke="#000" stroke-width="0.8"/>
<rect x="721.1" y="214.5" width="2.3" height="42.6" fill="#000"/>
<rect x="679" y="254.8" width="44.4" height="2.3" fill="#000"/>
<text transform="translate(699.5 224.1) scale(1.04 1)" font-size="11" text-anchor="middle" fill="#000" font-family="Liberation Sans" font-weight="bold">T = 77K</text>
<text x="698" y="239" font-size="11.4" text-anchor="middle" font-family="Liberation Sans" font-weight="bold">30<tspan font-size="10">μ</tspan>m</text>
<text x="699.4" y="252.7" font-size="11" text-anchor="middle" fill="#000" font-family="Liberation Sans" font-weight="bold">Diodes</text>
<text x="562" y="327.4" font-size="15" text-anchor="end" font-family="Liberation Sans" font-weight="bold">10<tspan font-size="8.5" dy="-8" dx="0.4">1</tspan></text>
<text x="562" y="310.2" font-size="15" text-anchor="end" font-family="Liberation Sans" font-weight="bold">10<tspan font-size="8.5" dy="-8" dx="0.4">2</tspan></text>
<text x="562" y="293.1" font-size="15" text-anchor="end" font-family="Liberation Sans" font-weight="bold">10<tspan font-size="8.5" dy="-8" dx="0.4">3</tspan></text>
<text x="562" y="276" font-size="15" text-anchor="end" font-family="Liberation Sans" font-weight="bold">10<tspan font-size="8.5" dy="-8" dx="0.4">4</tspan></text>
<text x="562" y="258.8" font-size="15" text-anchor="end" font-family="Liberation Sans" font-weight="bold">10<tspan font-size="8.5" dy="-8" dx="0.4">5</tspan></text>
<text x="562" y="241.7" font-size="15" text-anchor="end" font-family="Liberation Sans" font-weight="bold">10<tspan font-size="8.5" dy="-8" dx="0.4">6</tspan></text>
<text x="562" y="224.5" font-size="15" text-anchor="end" font-family="Liberation Sans" font-weight="bold">10<tspan font-size="8.5" dy="-8" dx="0.4">7</tspan></text>
<text x="562" y="207.4" font-size="15" text-anchor="end" font-family="Liberation Sans" font-weight="bold">10<tspan font-size="8.5" dy="-8" dx="0.4">8</tspan></text>
<text x="563.4" y="350" font-size="12" text-anchor="middle" fill="#000" font-family="Liberation Sans" font-weight="bold">-0.50</text>
<text x="605.2" y="350" font-size="12" text-anchor="middle" fill="#000" font-family="Liberation Sans" font-weight="bold">-0.25</text>
<text x="647" y="350" font-size="12" text-anchor="middle" fill="#000" font-family="Liberation Sans" font-weight="bold">0.00</text>
<text x="688.8" y="350" font-size="12" text-anchor="middle" fill="#000" font-family="Liberation Sans" font-weight="bold">0.25</text>
<text x="730.6" y="350" font-size="12" text-anchor="middle" fill="#000" font-family="Liberation Sans" font-weight="bold">0.50</text>
<text transform="translate(649.3 360.7) scale(1.133 1)" font-size="11.7" text-anchor="middle" fill="#000" font-family="Liberation Sans" font-weight="bold">Bias Voltage (V)</text>
<text transform="translate(535.5 307) rotate(-90) scale(1 1.12)" font-size="13" fill="#000" font-family="Liberation Sans" font-weight="bold">RA (</text>
<text transform="translate(534 275.5) rotate(-90) scale(1 1.0)" font-size="9.5" fill="#000" font-family="Liberation Sans" font-weight="bold">Ω</text>
<text transform="translate(535.5 259.3) rotate(-90) scale(1 1.12)" font-size="13" fill="#000" font-family="Liberation Sans" font-weight="bold">cm</text>
<text transform="translate(529.6 237.8) rotate(-90) scale(1 1.0)" font-size="8" fill="#000" font-family="Liberation Sans" font-weight="bold">2</text>
<text transform="translate(535.5 229.3) rotate(-90) scale(1 1.12)" font-size="13" fill="#000" font-family="Liberation Sans" font-weight="bold">)</text>
</svg></body></html>
